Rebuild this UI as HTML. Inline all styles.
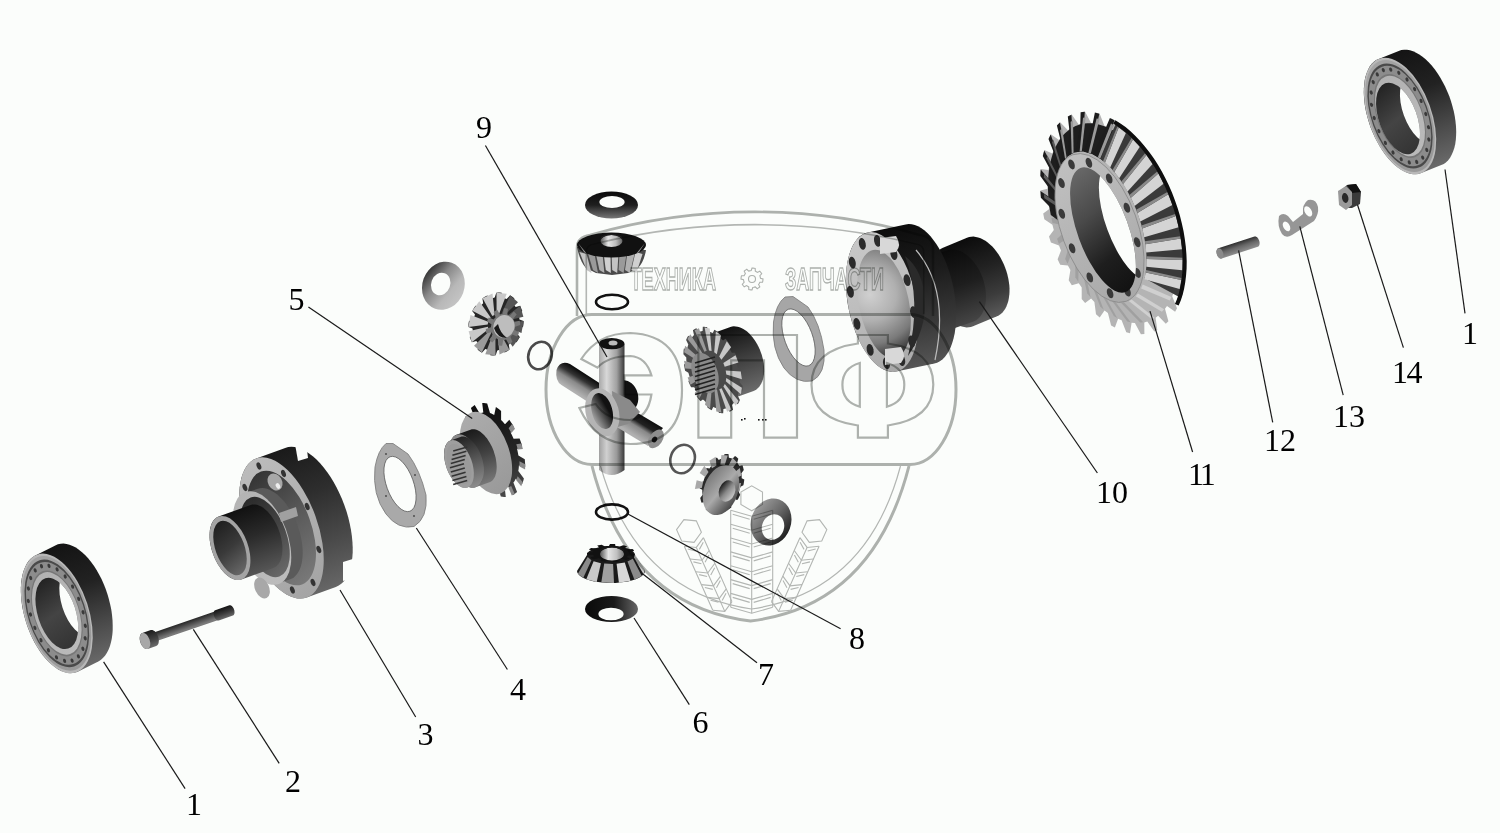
<!DOCTYPE html>
<html><head><meta charset="utf-8">
<style>
html,body{margin:0;padding:0;background:#fbfdfb;}
body{width:1500px;height:833px;overflow:hidden;}
svg{display:block;}
text{font-family:"Liberation Serif",serif;font-size:32px;fill:#000;}
</style></head><body>
<svg width="1500" height="833" viewBox="0 0 1500 833">
<defs><linearGradient id="g1" gradientUnits="userSpaceOnUse" x1="47.6" y1="549.4" x2="86" y2="667.4"><stop offset="0" stop-color="#141414"/><stop offset="0.35" stop-color="#222"/><stop offset="0.7" stop-color="#4a4a4a"/><stop offset="1" stop-color="#6a6a6a"/></linearGradient>
<linearGradient id="g2" gradientUnits="userSpaceOnUse" x1="37.6" y1="554.4" x2="76" y2="672.4"><stop offset="0" stop-color="#a4a4a4"/><stop offset="1" stop-color="#989898"/></linearGradient>
<linearGradient id="g3" gradientUnits="userSpaceOnUse" x1="37.6" y1="554.4" x2="76" y2="672.4"><stop offset="0" stop-color="#b0b0b0"/><stop offset="1" stop-color="#bcbcbc"/></linearGradient>
<linearGradient id="g4" gradientUnits="userSpaceOnUse" x1="45.4" y1="578.2" x2="68.2" y2="648.6"><stop offset="0" stop-color="#222"/><stop offset="0.5" stop-color="#444"/><stop offset="1" stop-color="#333"/></linearGradient>
<clipPath id="c5"><ellipse cx="78.8" cy="602.4" rx="17.1" ry="34.8" transform="rotate(-18 78.8 602.4)" fill="#000"/></clipPath>
<linearGradient id="g6" gradientUnits="userSpaceOnUse" x1="1389.1" y1="54.7" x2="1430.9" y2="169.3"><stop offset="0" stop-color="#141414"/><stop offset="0.35" stop-color="#222"/><stop offset="0.7" stop-color="#4a4a4a"/><stop offset="1" stop-color="#6a6a6a"/></linearGradient>
<linearGradient id="g7" gradientUnits="userSpaceOnUse" x1="1379.1" y1="58.7" x2="1420.9" y2="173.3"><stop offset="0" stop-color="#a4a4a4"/><stop offset="1" stop-color="#989898"/></linearGradient>
<linearGradient id="g8" gradientUnits="userSpaceOnUse" x1="1379.1" y1="58.7" x2="1420.9" y2="173.3"><stop offset="0" stop-color="#b0b0b0"/><stop offset="1" stop-color="#bcbcbc"/></linearGradient>
<linearGradient id="g9" gradientUnits="userSpaceOnUse" x1="1385.2" y1="83.3" x2="1410.8" y2="153.7"><stop offset="0" stop-color="#222"/><stop offset="0.5" stop-color="#444"/><stop offset="1" stop-color="#333"/></linearGradient>
<clipPath id="c10"><ellipse cx="1420" cy="109.7" rx="17.1" ry="35.2" transform="rotate(-20 1420 109.7)" fill="#000"/></clipPath>
<linearGradient id="g11" gradientUnits="userSpaceOnUse" x1="198.5" y1="615.7" x2="201.5" y2="624.3"><stop offset="0" stop-color="#1a1a1a"/><stop offset="0.45" stop-color="#444"/><stop offset="1" stop-color="#7a7a7a"/></linearGradient>
<linearGradient id="g12" gradientUnits="userSpaceOnUse" x1="228.2" y1="605.9" x2="231.8" y2="616.1"><stop offset="0" stop-color="#151515"/><stop offset="0.5" stop-color="#3a3a3a"/><stop offset="1" stop-color="#6a6a6a"/></linearGradient>
<linearGradient id="g13" gradientUnits="userSpaceOnUse" x1="147.3" y1="631.2" x2="152.7" y2="646.8"><stop offset="0" stop-color="#1a1a1a"/><stop offset="0.6" stop-color="#444"/><stop offset="1" stop-color="#6a6a6a"/></linearGradient>
<linearGradient id="g14" gradientUnits="userSpaceOnUse" x1="270.7" y1="452.5" x2="321.3" y2="591.5"><stop offset="0" stop-color="#1a1a1a"/><stop offset="0.35" stop-color="#2e2e2e"/><stop offset="0.7" stop-color="#4a4a4a"/><stop offset="1" stop-color="#666"/></linearGradient>
<linearGradient id="g15" gradientUnits="userSpaceOnUse" x1="256.2" y1="458.5" x2="306.8" y2="597.5"><stop offset="0" stop-color="#bcbcbc"/><stop offset="1" stop-color="#a4a4a4"/></linearGradient>
<linearGradient id="g16" gradientUnits="userSpaceOnUse" x1="261" y1="471.6" x2="302" y2="584.4"><stop offset="0" stop-color="#333"/><stop offset="0.5" stop-color="#5a5a5a"/><stop offset="1" stop-color="#7a7a7a"/></linearGradient>
<linearGradient id="g17" gradientUnits="userSpaceOnUse" x1="245.2" y1="492" x2="278.8" y2="584"><stop offset="0" stop-color="#b4b4b4"/><stop offset="1" stop-color="#bcbcbc"/></linearGradient>
<linearGradient id="g18" gradientUnits="userSpaceOnUse" x1="247.6" y1="498.5" x2="276.4" y2="577.5"><stop offset="0" stop-color="#2a2a2a"/><stop offset="0.5" stop-color="#444"/><stop offset="1" stop-color="#6a6a6a"/></linearGradient>
<linearGradient id="g19" gradientUnits="userSpaceOnUse" x1="234.5" y1="510.5" x2="257.5" y2="573.5"><stop offset="0" stop-color="#111"/><stop offset="0.45" stop-color="#2a2a2a"/><stop offset="1" stop-color="#555"/></linearGradient>
<linearGradient id="g20" gradientUnits="userSpaceOnUse" x1="220.3" y1="521.2" x2="239.7" y2="574.8"><stop offset="0" stop-color="#1e1e1e"/><stop offset="0.5" stop-color="#3a3a3a"/><stop offset="1" stop-color="#6a6a6a"/></linearGradient>
<linearGradient id="g21" gradientUnits="userSpaceOnUse" x1="477.2" y1="404" x2="510.8" y2="496"><stop offset="0" stop-color="#0e0e0e"/><stop offset="0.6" stop-color="#262626"/><stop offset="1" stop-color="#4a4a4a"/></linearGradient>
<linearGradient id="g22" gradientUnits="userSpaceOnUse" x1="471.3" y1="412.6" x2="500.7" y2="493.4"><stop offset="0" stop-color="#acacac"/><stop offset="1" stop-color="#999"/></linearGradient>
<linearGradient id="g23" gradientUnits="userSpaceOnUse" x1="462.4" y1="432.7" x2="481.6" y2="485.3"><stop offset="0" stop-color="#1a1a1a"/><stop offset="0.5" stop-color="#444"/><stop offset="1" stop-color="#777"/></linearGradient>
<linearGradient id="g24" gradientUnits="userSpaceOnUse" x1="455.4" y1="438.5" x2="472.6" y2="485.5"><stop offset="0" stop-color="#222"/><stop offset="0.5" stop-color="#555"/><stop offset="1" stop-color="#888"/></linearGradient>
<linearGradient id="g25" gradientUnits="userSpaceOnUse" x1="422.7" y1="278.3" x2="464.1" y2="293.3"><stop offset="0" stop-color="#333"/><stop offset="0.35" stop-color="#888"/><stop offset="0.7" stop-color="#b8b8b8"/><stop offset="1" stop-color="#c4c4c4"/></linearGradient>
<linearGradient id="g26" gradientUnits="userSpaceOnUse" x1="611.5" y1="191.5" x2="611.5" y2="218.5"><stop offset="0" stop-color="#0a0a0a"/><stop offset="0.5" stop-color="#1e1e1e"/><stop offset="1" stop-color="#777"/></linearGradient>
<linearGradient id="g27" gradientUnits="userSpaceOnUse" x1="600.5" y1="241" x2="622.5" y2="241"><stop offset="0" stop-color="#555"/><stop offset="0.35" stop-color="#e6e6e6"/><stop offset="0.7" stop-color="#bbb"/><stop offset="1" stop-color="#666"/></linearGradient>
<linearGradient id="g28" gradientUnits="userSpaceOnUse" x1="600" y1="554" x2="624" y2="554"><stop offset="0" stop-color="#555"/><stop offset="0.35" stop-color="#e6e6e6"/><stop offset="0.7" stop-color="#c0c0c0"/><stop offset="1" stop-color="#777"/></linearGradient>
<linearGradient id="g29" gradientUnits="userSpaceOnUse" x1="585" y1="609" x2="638" y2="609"><stop offset="0" stop-color="#0a0a0a"/><stop offset="0.55" stop-color="#1a1a1a"/><stop offset="1" stop-color="#666"/></linearGradient>
<linearGradient id="g30" gradientUnits="userSpaceOnUse" x1="572.7" y1="390.5" x2="583.3" y2="373.5"><stop offset="0" stop-color="#b0b0b0"/><stop offset="0.4" stop-color="#8a8a8a"/><stop offset="0.7" stop-color="#333"/><stop offset="1" stop-color="#0e0e0e"/></linearGradient>
<linearGradient id="g31" gradientUnits="userSpaceOnUse" x1="599" y1="370" x2="624.4" y2="370"><stop offset="0" stop-color="#a8a8a8"/><stop offset="0.3" stop-color="#d8d8d8"/><stop offset="0.7" stop-color="#a0a0a0"/><stop offset="1" stop-color="#3a3a3a"/></linearGradient>
<linearGradient id="g32" gradientUnits="userSpaceOnUse" x1="599" y1="450" x2="624.4" y2="450"><stop offset="0" stop-color="#a0a0a0"/><stop offset="0.3" stop-color="#d0d0d0"/><stop offset="0.7" stop-color="#999"/><stop offset="1" stop-color="#3a3a3a"/></linearGradient>
<linearGradient id="g33" gradientUnits="userSpaceOnUse" x1="634.2" y1="435.3" x2="645.8" y2="416.7"><stop offset="0" stop-color="#b0b0b0"/><stop offset="0.4" stop-color="#888"/><stop offset="0.62" stop-color="#222"/><stop offset="1" stop-color="#0e0e0e"/></linearGradient>
<linearGradient id="g34" gradientUnits="userSpaceOnUse" x1="592.3" y1="413.6" x2="611.7" y2="408.4"><stop offset="0" stop-color="#9a9a9a"/><stop offset="0.4" stop-color="#555"/><stop offset="0.8" stop-color="#111"/><stop offset="1" stop-color="#111"/></linearGradient>
<linearGradient id="g35" gradientUnits="userSpaceOnUse" x1="723.4" y1="329.1" x2="746.6" y2="392.9"><stop offset="0" stop-color="#111"/><stop offset="0.45" stop-color="#3a3a3a"/><stop offset="1" stop-color="#6a6a6a"/></linearGradient>
<linearGradient id="g36" gradientUnits="userSpaceOnUse" x1="702.2" y1="483.2" x2="739.8" y2="496.8"><stop offset="0" stop-color="#777"/><stop offset="0.5" stop-color="#aaa"/><stop offset="1" stop-color="#444"/></linearGradient>
<linearGradient id="g37" gradientUnits="userSpaceOnUse" x1="718.5" y1="487.9" x2="735.5" y2="494.1"><stop offset="0" stop-color="#111"/><stop offset="0.5" stop-color="#888"/><stop offset="1" stop-color="#ccc"/></linearGradient>
<linearGradient id="g38" gradientUnits="userSpaceOnUse" x1="752.2" y1="515.2" x2="789.8" y2="528.8"><stop offset="0" stop-color="#999"/><stop offset="0.5" stop-color="#666"/><stop offset="1" stop-color="#222"/></linearGradient>
<linearGradient id="g39" gradientUnits="userSpaceOnUse" x1="950.8" y1="244" x2="979.2" y2="322"><stop offset="0" stop-color="#0c0c0c"/><stop offset="0.4" stop-color="#222"/><stop offset="0.75" stop-color="#3c3c3c"/><stop offset="1" stop-color="#5a5a5a"/></linearGradient>
<linearGradient id="g40" gradientUnits="userSpaceOnUse" x1="922" y1="258.3" x2="948" y2="329.7"><stop offset="0" stop-color="#0a0a0a"/><stop offset="0.5" stop-color="#1e1e1e"/><stop offset="1" stop-color="#444"/></linearGradient>
<linearGradient id="g41" gradientUnits="userSpaceOnUse" x1="885.8" y1="228.4" x2="914.2" y2="367.6"><stop offset="0" stop-color="#0c0c0c"/><stop offset="0.35" stop-color="#1c1c1c"/><stop offset="0.7" stop-color="#383838"/><stop offset="1" stop-color="#555"/></linearGradient>
<linearGradient id="g42" gradientUnits="userSpaceOnUse" x1="867.8" y1="232.4" x2="896.2" y2="371.6"><stop offset="0" stop-color="#c8c8c8"/><stop offset="0.5" stop-color="#bdbdbd"/><stop offset="1" stop-color="#a8a8a8"/></linearGradient>
<radialGradient id="g43" gradientUnits="userSpaceOnUse" cx="872" cy="292" r="66"><stop offset="0" stop-color="#d0d0d0"/><stop offset="0.4" stop-color="#b0b0b0"/><stop offset="0.75" stop-color="#7a7a7a"/><stop offset="1" stop-color="#333"/></radialGradient>
<linearGradient id="g44" gradientUnits="userSpaceOnUse" x1="1072.8" y1="154.7" x2="1126.2" y2="301.3"><stop offset="0" stop-color="#c0c0c0"/><stop offset="1" stop-color="#a8a8a8"/></linearGradient>
<linearGradient id="g45" gradientUnits="userSpaceOnUse" x1="1080.4" y1="168" x2="1125.6" y2="292"><stop offset="0" stop-color="#6a6a6a"/><stop offset="0.35" stop-color="#4a4a4a"/><stop offset="0.7" stop-color="#1e1e1e"/><stop offset="1" stop-color="#111"/></linearGradient>
<clipPath id="c46"><ellipse cx="1128" cy="222" rx="22" ry="60" transform="rotate(-20 1128 222)" fill="#000"/></clipPath>
<linearGradient id="g47" gradientUnits="userSpaceOnUse" x1="1236.3" y1="241.9" x2="1239.7" y2="252.1"><stop offset="0" stop-color="#2a2a2a"/><stop offset="0.5" stop-color="#666"/><stop offset="1" stop-color="#8a8a8a"/></linearGradient></defs>
<path d="M98.3 661.4 L100.7 659.9 L102.9 658 L105 655.7 L106.8 653 L108.4 649.9 L109.8 646.4 L110.9 642.7 L111.8 638.6 L112.4 634.2 L112.7 629.6 L112.7 624.9 L112.5 619.9 L112 614.8 L111.3 609.7 L110.2 604.5 L108.9 599.3 L107.4 594.1 L105.7 589 L103.7 584 L101.5 579.1 L99.1 574.4 L96.6 570 L93.9 565.8 L91.1 561.9 L88.1 558.3 L85.1 555.1 L82 552.2 L78.9 549.7 L75.8 547.6 L72.6 545.9 L69.5 544.7 L66.5 543.9 L63.5 543.6 L60.7 543.8 L57.9 544.3 L55.3 545.4 L35.3 555.4 L32.9 556.9 L30.7 558.8 L28.6 561.1 L26.8 563.8 L25.2 566.9 L23.8 570.4 L22.7 574.1 L21.8 578.2 L21.2 582.6 L20.9 587.2 L20.9 591.9 L21.1 596.9 L21.6 602 L22.3 607.1 L23.4 612.3 L24.7 617.5 L26.2 622.7 L27.9 627.8 L29.9 632.8 L32.1 637.7 L34.5 642.4 L37 646.8 L39.7 651 L42.5 654.9 L45.5 658.5 L48.5 661.7 L51.6 664.6 L54.7 667.1 L57.8 669.2 L61 670.9 L64.1 672.1 L67.1 672.9 L70.1 673.2 L72.9 673 L75.7 672.5 L78.3 671.4Z" fill="url(#g1)"/>
<ellipse cx="56.8" cy="613.4" rx="32" ry="62" transform="rotate(-18 56.8 613.4)" fill="#b8b8b8"/>
<ellipse cx="56.8" cy="613.4" rx="30.7" ry="59.5" transform="rotate(-18 56.8 613.4)" fill="url(#g2)"/>
<ellipse cx="56.8" cy="613.4" rx="28.8" ry="55.8" transform="rotate(-18 56.8 613.4)" fill="#4a4a4a"/>
<ellipse cx="56.8" cy="613.4" rx="27.5" ry="53.3" transform="rotate(-18 56.8 613.4)" fill="#8c8c8c"/>
<ellipse cx="56.8" cy="613.4" rx="23" ry="44.6" transform="rotate(-18 56.8 613.4)" fill="#777"/>
<ellipse cx="56.8" cy="613.4" rx="22.1" ry="42.8" transform="rotate(-18 56.8 613.4)" fill="url(#g3)"/>
<ellipse cx="72.1" cy="660.6" rx="1.5" ry="2.2" transform="rotate(-18 72.1 660.6)" fill="#3a3a3a"/>
<ellipse cx="78.4" cy="656.4" rx="1.5" ry="2.2" transform="rotate(-18 78.4 656.4)" fill="#3a3a3a"/>
<ellipse cx="82.9" cy="648.8" rx="1.5" ry="2.2" transform="rotate(-18 82.9 648.8)" fill="#3a3a3a"/>
<ellipse cx="85.2" cy="638.3" rx="1.5" ry="2.2" transform="rotate(-18 85.2 638.3)" fill="#3a3a3a"/>
<ellipse cx="85.3" cy="625.8" rx="1.5" ry="2.2" transform="rotate(-18 85.3 625.8)" fill="#3a3a3a"/>
<ellipse cx="83.1" cy="612.3" rx="1.5" ry="2.2" transform="rotate(-18 83.1 612.3)" fill="#3a3a3a"/>
<ellipse cx="78.7" cy="598.9" rx="1.5" ry="2.2" transform="rotate(-18 78.7 598.9)" fill="#3a3a3a"/>
<ellipse cx="72.6" cy="586.6" rx="1.5" ry="2.2" transform="rotate(-18 72.6 586.6)" fill="#3a3a3a"/>
<ellipse cx="65.2" cy="576.5" rx="1.5" ry="2.2" transform="rotate(-18 65.2 576.5)" fill="#3a3a3a"/>
<ellipse cx="57.1" cy="569.4" rx="1.5" ry="2.2" transform="rotate(-18 57.1 569.4)" fill="#3a3a3a"/>
<ellipse cx="49" cy="565.9" rx="1.5" ry="2.2" transform="rotate(-18 49 565.9)" fill="#3a3a3a"/>
<ellipse cx="41.5" cy="566.2" rx="1.5" ry="2.2" transform="rotate(-18 41.5 566.2)" fill="#3a3a3a"/>
<ellipse cx="35.2" cy="570.4" rx="1.5" ry="2.2" transform="rotate(-18 35.2 570.4)" fill="#3a3a3a"/>
<ellipse cx="30.7" cy="578" rx="1.5" ry="2.2" transform="rotate(-18 30.7 578)" fill="#3a3a3a"/>
<ellipse cx="28.4" cy="588.5" rx="1.5" ry="2.2" transform="rotate(-18 28.4 588.5)" fill="#3a3a3a"/>
<ellipse cx="28.3" cy="601" rx="1.5" ry="2.2" transform="rotate(-18 28.3 601)" fill="#3a3a3a"/>
<ellipse cx="30.5" cy="614.5" rx="1.5" ry="2.2" transform="rotate(-18 30.5 614.5)" fill="#3a3a3a"/>
<ellipse cx="34.9" cy="627.9" rx="1.5" ry="2.2" transform="rotate(-18 34.9 627.9)" fill="#3a3a3a"/>
<ellipse cx="41" cy="640.2" rx="1.5" ry="2.2" transform="rotate(-18 41 640.2)" fill="#3a3a3a"/>
<ellipse cx="48.4" cy="650.3" rx="1.5" ry="2.2" transform="rotate(-18 48.4 650.3)" fill="#3a3a3a"/>
<ellipse cx="56.5" cy="657.4" rx="1.5" ry="2.2" transform="rotate(-18 56.5 657.4)" fill="#3a3a3a"/>
<ellipse cx="64.6" cy="660.9" rx="1.5" ry="2.2" transform="rotate(-18 64.6 660.9)" fill="#3a3a3a"/>
<ellipse cx="56.8" cy="613.4" rx="19" ry="37" transform="rotate(-18 56.8 613.4)" fill="url(#g4)"/>
<g clip-path="url(#c5)"><ellipse cx="56.8" cy="613.4" rx="19" ry="37" transform="rotate(-18 56.8 613.4)" fill="#fbfdfb"/></g>
<path d="M1441.3 165.1 L1443.8 163.9 L1446.1 162.2 L1448.2 160.2 L1450.1 157.7 L1451.7 154.8 L1453.1 151.6 L1454.3 148.1 L1455.2 144.2 L1455.8 140.1 L1456.1 135.8 L1456.2 131.2 L1456 126.4 L1455.5 121.5 L1454.8 116.5 L1453.8 111.5 L1452.5 106.4 L1451 101.3 L1449.3 96.3 L1447.3 91.4 L1445.1 86.6 L1442.7 81.9 L1440.2 77.5 L1437.5 73.2 L1434.7 69.3 L1431.7 65.6 L1428.7 62.3 L1425.6 59.3 L1422.5 56.7 L1419.3 54.5 L1416.1 52.7 L1413 51.3 L1410 50.3 L1407 49.8 L1404.1 49.7 L1401.3 50.1 L1398.7 50.9 L1378.7 58.9 L1376.2 60.1 L1373.9 61.8 L1371.8 63.8 L1369.9 66.3 L1368.3 69.2 L1366.9 72.4 L1365.7 75.9 L1364.8 79.8 L1364.2 83.9 L1363.9 88.2 L1363.8 92.8 L1364 97.6 L1364.5 102.5 L1365.2 107.5 L1366.2 112.5 L1367.5 117.6 L1369 122.7 L1370.7 127.7 L1372.7 132.6 L1374.9 137.4 L1377.3 142.1 L1379.8 146.5 L1382.5 150.8 L1385.3 154.7 L1388.3 158.4 L1391.3 161.7 L1394.4 164.7 L1397.5 167.3 L1400.7 169.5 L1403.9 171.3 L1407 172.7 L1410 173.7 L1413 174.2 L1415.9 174.3 L1418.7 173.9 L1421.3 173.1Z" fill="url(#g6)"/>
<ellipse cx="1400" cy="116" rx="31.5" ry="61" transform="rotate(-20 1400 116)" fill="#b8b8b8"/>
<ellipse cx="1400" cy="116" rx="30.2" ry="58.6" transform="rotate(-20 1400 116)" fill="url(#g7)"/>
<ellipse cx="1400" cy="116" rx="28.4" ry="54.9" transform="rotate(-20 1400 116)" fill="#4a4a4a"/>
<ellipse cx="1400" cy="116" rx="27.1" ry="52.5" transform="rotate(-20 1400 116)" fill="#8c8c8c"/>
<ellipse cx="1400" cy="116" rx="22.7" ry="43.9" transform="rotate(-20 1400 116)" fill="#777"/>
<ellipse cx="1400" cy="116" rx="21.7" ry="42.1" transform="rotate(-20 1400 116)" fill="url(#g8)"/>
<ellipse cx="1416.7" cy="161.9" rx="1.5" ry="2.2" transform="rotate(-20 1416.7 161.9)" fill="#3a3a3a"/>
<ellipse cx="1422.7" cy="157.6" rx="1.5" ry="2.2" transform="rotate(-20 1422.7 157.6)" fill="#3a3a3a"/>
<ellipse cx="1426.8" cy="149.9" rx="1.5" ry="2.2" transform="rotate(-20 1426.8 149.9)" fill="#3a3a3a"/>
<ellipse cx="1428.8" cy="139.5" rx="1.5" ry="2.2" transform="rotate(-20 1428.8 139.5)" fill="#3a3a3a"/>
<ellipse cx="1428.5" cy="127.2" rx="1.5" ry="2.2" transform="rotate(-20 1428.5 127.2)" fill="#3a3a3a"/>
<ellipse cx="1425.8" cy="114" rx="1.5" ry="2.2" transform="rotate(-20 1425.8 114)" fill="#3a3a3a"/>
<ellipse cx="1421.1" cy="100.9" rx="1.5" ry="2.2" transform="rotate(-20 1421.1 100.9)" fill="#3a3a3a"/>
<ellipse cx="1414.6" cy="89.1" rx="1.5" ry="2.2" transform="rotate(-20 1414.6 89.1)" fill="#3a3a3a"/>
<ellipse cx="1407" cy="79.5" rx="1.5" ry="2.2" transform="rotate(-20 1407 79.5)" fill="#3a3a3a"/>
<ellipse cx="1398.8" cy="72.8" rx="1.5" ry="2.2" transform="rotate(-20 1398.8 72.8)" fill="#3a3a3a"/>
<ellipse cx="1390.7" cy="69.6" rx="1.5" ry="2.2" transform="rotate(-20 1390.7 69.6)" fill="#3a3a3a"/>
<ellipse cx="1383.3" cy="70.1" rx="1.5" ry="2.2" transform="rotate(-20 1383.3 70.1)" fill="#3a3a3a"/>
<ellipse cx="1377.3" cy="74.4" rx="1.5" ry="2.2" transform="rotate(-20 1377.3 74.4)" fill="#3a3a3a"/>
<ellipse cx="1373.2" cy="82.1" rx="1.5" ry="2.2" transform="rotate(-20 1373.2 82.1)" fill="#3a3a3a"/>
<ellipse cx="1371.2" cy="92.5" rx="1.5" ry="2.2" transform="rotate(-20 1371.2 92.5)" fill="#3a3a3a"/>
<ellipse cx="1371.5" cy="104.8" rx="1.5" ry="2.2" transform="rotate(-20 1371.5 104.8)" fill="#3a3a3a"/>
<ellipse cx="1374.2" cy="118" rx="1.5" ry="2.2" transform="rotate(-20 1374.2 118)" fill="#3a3a3a"/>
<ellipse cx="1378.9" cy="131.1" rx="1.5" ry="2.2" transform="rotate(-20 1378.9 131.1)" fill="#3a3a3a"/>
<ellipse cx="1385.4" cy="142.9" rx="1.5" ry="2.2" transform="rotate(-20 1385.4 142.9)" fill="#3a3a3a"/>
<ellipse cx="1393" cy="152.5" rx="1.5" ry="2.2" transform="rotate(-20 1393 152.5)" fill="#3a3a3a"/>
<ellipse cx="1401.2" cy="159.2" rx="1.5" ry="2.2" transform="rotate(-20 1401.2 159.2)" fill="#3a3a3a"/>
<ellipse cx="1409.3" cy="162.4" rx="1.5" ry="2.2" transform="rotate(-20 1409.3 162.4)" fill="#3a3a3a"/>
<ellipse cx="1398" cy="118.5" rx="19" ry="37.5" transform="rotate(-20 1398 118.5)" fill="url(#g9)"/>
<g clip-path="url(#c10)"><ellipse cx="1398" cy="118.5" rx="19" ry="37.5" transform="rotate(-20 1398 118.5)" fill="#fbfdfb"/></g>
<path d="M219.9 619.4 L220.1 619.3 L220.3 619.1 L220.5 619 L220.7 618.8 L220.8 618.6 L220.9 618.4 L221 618.1 L221.1 617.8 L221.2 617.5 L221.3 617.2 L221.3 616.8 L221.3 616.5 L221.3 616.1 L221.2 615.7 L221.2 615.3 L221.1 614.9 L221 614.5 L220.9 614.2 L220.7 613.8 L220.6 613.4 L220.4 613.1 L220.2 612.7 L220 612.4 L219.8 612.1 L219.6 611.8 L219.3 611.6 L219.1 611.3 L218.8 611.1 L218.6 611 L218.3 610.8 L218.1 610.7 L217.8 610.6 L217.6 610.6 L217.4 610.6 L217.1 610.6 L216.9 610.7 L154.5 632.2 L154.3 632.2 L154.1 632.4 L153.9 632.5 L153.8 632.7 L153.6 632.9 L153.5 633.2 L153.4 633.4 L153.3 633.7 L153.2 634 L153.2 634.4 L153.1 634.7 L153.1 635.1 L153.1 635.4 L153.2 635.8 L153.2 636.2 L153.3 636.6 L153.4 637 L153.5 637.3 L153.7 637.7 L153.8 638.1 L154 638.4 L154.2 638.8 L154.4 639.1 L154.6 639.4 L154.8 639.7 L155.1 639.9 L155.3 640.2 L155.6 640.4 L155.8 640.5 L156.1 640.7 L156.3 640.8 L156.6 640.9 L156.8 640.9 L157 640.9 L157.3 640.9 L157.5 640.8Z" fill="url(#g11)"/>
<path d="M232.9 615.5 L233.2 615.4 L233.4 615.3 L233.6 615.1 L233.8 614.9 L234 614.6 L234.1 614.3 L234.2 614 L234.4 613.7 L234.4 613.3 L234.5 613 L234.5 612.5 L234.5 612.1 L234.5 611.7 L234.4 611.2 L234.4 610.8 L234.3 610.3 L234.2 609.9 L234 609.4 L233.9 609 L233.7 608.6 L233.5 608.2 L233.2 607.8 L233 607.4 L232.8 607 L232.5 606.7 L232.2 606.4 L231.9 606.1 L231.7 605.9 L231.4 605.7 L231.1 605.5 L230.8 605.4 L230.5 605.3 L230.2 605.2 L229.9 605.2 L229.7 605.2 L229.4 605.3 L215.2 610.2 L215 610.3 L214.8 610.4 L214.6 610.6 L214.4 610.8 L214.2 611.1 L214.1 611.4 L213.9 611.7 L213.8 612 L213.8 612.4 L213.7 612.8 L213.7 613.2 L213.7 613.6 L213.7 614 L213.7 614.5 L213.8 614.9 L213.9 615.4 L214 615.8 L214.2 616.3 L214.3 616.7 L214.5 617.1 L214.7 617.6 L214.9 618 L215.2 618.3 L215.4 618.7 L215.7 619 L216 619.3 L216.2 619.6 L216.5 619.8 L216.8 620 L217.1 620.2 L217.4 620.3 L217.7 620.4 L218 620.5 L218.2 620.5 L218.5 620.5 L218.8 620.4Z" fill="url(#g12)"/>
<path d="M156.2 646 L156.6 645.8 L157 645.6 L157.3 645.3 L157.6 645 L157.9 644.6 L158.1 644.2 L158.4 643.7 L158.5 643.1 L158.7 642.6 L158.7 642 L158.8 641.3 L158.8 640.7 L158.8 640 L158.7 639.3 L158.6 638.6 L158.5 637.9 L158.3 637.2 L158 636.5 L157.8 635.8 L157.5 635.2 L157.2 634.5 L156.8 633.9 L156.5 633.3 L156.1 632.7 L155.7 632.2 L155.2 631.8 L154.8 631.3 L154.3 631 L153.9 630.7 L153.4 630.4 L152.9 630.2 L152.5 630.1 L152 630 L151.6 630 L151.2 630 L150.8 630.1 L142.3 633.1 L141.9 633.2 L141.5 633.4 L141.2 633.7 L140.9 634.1 L140.6 634.5 L140.4 634.9 L140.2 635.4 L140 635.9 L139.9 636.5 L139.8 637.1 L139.7 637.7 L139.7 638.4 L139.7 639.1 L139.8 639.8 L139.9 640.5 L140.1 641.2 L140.2 641.9 L140.5 642.6 L140.7 643.2 L141 643.9 L141.3 644.6 L141.7 645.2 L142 645.8 L142.4 646.3 L142.9 646.8 L143.3 647.3 L143.7 647.7 L144.2 648.1 L144.6 648.4 L145.1 648.7 L145.6 648.9 L146 649 L146.5 649.1 L146.9 649.1 L147.3 649 L147.7 648.9Z" fill="url(#g13)"/>
<ellipse cx="145" cy="641" rx="4.8" ry="8.4" transform="rotate(-19 145 641)" fill="#a8a8a8"/>
<path d="M335.8 586.9 L338.7 585.6 L341.3 583.7 L343.7 581.4 L345.9 578.5 L347.7 575.2 L349.3 571.4 L350.6 567.3 L351.6 562.7 L352.3 557.8 L352.7 552.6 L352.7 547.2 L352.4 541.5 L351.8 535.6 L350.9 529.6 L349.7 523.5 L348.2 517.3 L346.4 511.1 L344.3 505 L342 499 L339.4 493.2 L336.6 487.5 L333.6 482 L330.4 476.8 L327.1 471.9 L323.7 467.4 L320.1 463.2 L316.5 459.5 L312.8 456.2 L309.1 453.4 L305.5 451 L301.8 449.2 L298.3 447.8 L294.8 447 L291.4 446.8 L288.2 447.1 L285.2 447.9 L256.2 458.5 L253.3 459.8 L250.7 461.7 L248.3 464 L246.1 466.9 L244.3 470.2 L242.7 474 L241.4 478.1 L240.4 482.7 L239.7 487.6 L239.3 492.8 L239.3 498.2 L239.6 503.9 L240.2 509.8 L241.1 515.8 L242.3 521.9 L243.8 528.1 L245.6 534.3 L247.7 540.4 L250 546.4 L252.6 552.2 L255.4 557.9 L258.4 563.4 L261.6 568.6 L264.9 573.5 L268.3 578 L271.9 582.2 L275.5 585.9 L279.2 589.2 L282.9 592 L286.5 594.4 L290.2 596.2 L293.7 597.6 L297.2 598.4 L300.6 598.6 L303.8 598.3 L306.8 597.5Z" fill="url(#g14)"/>
<path d="M295 444 L306 442 L308 458 L298 461 Z" fill="#fbfdfb"/>
<path d="M343 562 L356 558 L357 576 L343 581 Z" fill="#fbfdfb"/>
<path d="M348 488 L356 486 L356 498 L349 501 Z" fill="#fbfdfb"/>
<ellipse cx="281.5" cy="528" rx="36" ry="74" transform="rotate(-20 281.5 528)" fill="url(#g15)"/>
<ellipse cx="248" cy="528" rx="2.2" ry="3.8" transform="rotate(-20 248 528)" fill="#333"/>
<ellipse cx="266.7" cy="568.5" rx="2.2" ry="3.8" transform="rotate(-20 266.7 568.5)" fill="#333"/>
<ellipse cx="292.4" cy="590" rx="2.2" ry="3.8" transform="rotate(-20 292.4 590)" fill="#333"/>
<ellipse cx="313" cy="582.5" rx="2.2" ry="3.8" transform="rotate(-20 313 582.5)" fill="#333"/>
<ellipse cx="318.8" cy="549.5" rx="2.2" ry="3.8" transform="rotate(-20 318.8 549.5)" fill="#333"/>
<ellipse cx="307.2" cy="506.5" rx="2.2" ry="3.8" transform="rotate(-20 307.2 506.5)" fill="#333"/>
<ellipse cx="283.5" cy="473.5" rx="2.2" ry="3.8" transform="rotate(-20 283.5 473.5)" fill="#333"/>
<ellipse cx="258.9" cy="466" rx="2.2" ry="3.8" transform="rotate(-20 258.9 466)" fill="#333"/>
<ellipse cx="244.9" cy="487.5" rx="2.2" ry="3.8" transform="rotate(-20 244.9 487.5)" fill="#333"/>
<ellipse cx="281.5" cy="528" rx="29.5" ry="60" transform="rotate(-20 281.5 528)" fill="url(#g16)"/>
<path d="M290.1 579.2 L292.1 578.4 L294 577.2 L295.7 575.6 L297.2 573.8 L298.6 571.6 L299.8 569.2 L300.8 566.5 L301.6 563.6 L302.1 560.4 L302.5 557 L302.7 553.5 L302.6 549.8 L302.3 545.9 L301.8 542 L301.1 538.1 L300.2 534.1 L299 530.1 L297.7 526.1 L296.2 522.2 L294.6 518.4 L292.8 514.7 L290.8 511.1 L288.7 507.7 L286.5 504.5 L284.2 501.6 L281.8 498.9 L279.4 496.4 L276.9 494.3 L274.4 492.4 L271.9 490.9 L269.5 489.7 L267 488.8 L264.6 488.3 L262.3 488.1 L260 488.3 L257.9 488.8 L245.9 492.8 L243.9 493.6 L242 494.8 L240.3 496.4 L238.8 498.2 L237.4 500.4 L236.2 502.8 L235.2 505.5 L234.4 508.4 L233.9 511.6 L233.5 515 L233.3 518.5 L233.4 522.2 L233.7 526.1 L234.2 530 L234.9 533.9 L235.8 537.9 L237 541.9 L238.3 545.9 L239.8 549.8 L241.4 553.6 L243.2 557.3 L245.2 560.9 L247.3 564.3 L249.5 567.5 L251.8 570.4 L254.2 573.1 L256.6 575.6 L259.1 577.7 L261.6 579.6 L264.1 581.1 L266.5 582.3 L269 583.2 L271.4 583.7 L273.7 583.9 L276 583.7 L278.1 583.2Z" fill="#5a5a5a"/>
<ellipse cx="262" cy="538" rx="25.5" ry="49" transform="rotate(-20 262 538)" fill="url(#g17)"/>
<ellipse cx="265" cy="537" rx="21.5" ry="42" transform="rotate(-20 265 537)" fill="url(#g18)"/>
<path d="M279 513 L296 507 L298 516 L281 522 Z" fill="#a0a0a0"/>
<path d="M273.4 568 L274.9 567.3 L276.2 566.5 L277.4 565.3 L278.5 564 L279.5 562.5 L280.4 560.7 L281.1 558.8 L281.6 556.7 L282.1 554.5 L282.3 552.1 L282.4 549.6 L282.4 547 L282.2 544.3 L281.8 541.6 L281.3 538.8 L280.7 536 L279.9 533.2 L278.9 530.4 L277.9 527.7 L276.7 525 L275.4 522.5 L274 520 L272.5 517.7 L271 515.5 L269.3 513.4 L267.6 511.6 L265.9 509.9 L264.1 508.5 L262.4 507.2 L260.6 506.2 L258.8 505.4 L257.1 504.8 L255.4 504.5 L253.7 504.4 L252.1 504.6 L250.6 505 L218.6 516.5 L217.1 517.2 L215.8 518 L214.6 519.2 L213.5 520.5 L212.5 522 L211.6 523.8 L210.9 525.7 L210.4 527.8 L209.9 530 L209.7 532.4 L209.6 534.9 L209.6 537.5 L209.8 540.2 L210.2 542.9 L210.7 545.7 L211.3 548.5 L212.1 551.3 L213.1 554.1 L214.1 556.8 L215.3 559.5 L216.6 562 L218 564.5 L219.5 566.8 L221 569 L222.7 571.1 L224.4 572.9 L226.1 574.6 L227.9 576 L229.6 577.3 L231.4 578.3 L233.2 579.1 L234.9 579.7 L236.6 580 L238.3 580.1 L239.9 579.9 L241.4 579.5Z" fill="url(#g19)"/>
<ellipse cx="230" cy="548" rx="18" ry="33.5" transform="rotate(-20 230 548)" fill="#a4a4a4"/>
<ellipse cx="230" cy="548" rx="14.5" ry="28.5" transform="rotate(-20 230 548)" fill="url(#g20)"/>
<ellipse cx="275" cy="482" rx="7" ry="9" transform="rotate(-30 275 482)" fill="#a8a8a8"/>
<ellipse cx="278" cy="486" rx="2" ry="3" transform="rotate(-30 278 486)" fill="#eee"/>
<ellipse cx="262" cy="588" rx="7" ry="11" transform="rotate(-25 262 588)" fill="#a8a8a8"/>
<path d="M386 443.5 L393 443.5 L408 454 Q420 470 426 495 Q428 518 414 526.5 Q398 530 386 514 Q372 495 375 467 Q378 450 386 443.5 Z" fill="#a9a9a9" stroke="#777" stroke-width="0.8"/>
<ellipse cx="400" cy="484" rx="13.5" ry="29" transform="rotate(-20 400 484)" fill="#fbfdfb" stroke="#555" stroke-width="0.7"/>
<circle cx="386" cy="454" r="0.9" fill="#444"/>
<circle cx="415" cy="475" r="0.9" fill="#444"/>
<circle cx="386" cy="496" r="0.9" fill="#444"/>
<circle cx="414" cy="516" r="0.9" fill="#444"/>
<path d="M513.3 494.9 L514.6 494 L515.9 493 L517.1 491.9 L513.4 482.5 L514.3 481.4 L515.1 480.1 L515.8 478.8 L522 484.3 L522.7 482.4 L523.4 480.5 L523.9 478.4 L518.3 471 L518.6 469.2 L518.8 467.4 L518.9 465.5 L525.2 466.9 L525.2 464.4 L525 461.9 L524.8 459.3 L518.4 455.4 L518 453.3 L517.6 451.2 L517.1 449.1 L522.2 446.2 L521.4 443.6 L520.5 441 L519.6 438.4 L513.6 438.7 L512.7 436.7 L511.8 434.8 L510.7 432.8 L513.6 426.2 L512.2 424 L510.8 421.9 L509.3 419.8 L505 424.2 L503.7 422.8 L502.4 421.3 L501.1 420 L501.1 411 L499.4 409.6 L497.7 408.3 L495.9 407.1 L494.2 414.9 L492.8 414.2 L491.4 413.6 L490 413.1 L487.2 403.5 L485.5 403.2 L483.9 403 L482.2 403 L483.3 412.5 L482.1 412.7 L480.9 413.1 L479.7 413.5 L474.7 405.1 L473.4 406 L472.1 407 L470.9 408.1 L474.6 417.5 L473.7 418.6 L472.9 419.9 L472.2 421.2 L466 415.7 L465.3 417.6 L464.6 419.5 L464.1 421.6 L469.7 429 L469.4 430.8 L469.2 432.6 L469.1 434.5 L462.8 433.1 L462.8 435.6 L463 438.1 L463.2 440.7 L469.6 444.6 L470 446.7 L470.4 448.8 L470.9 450.9 L465.8 453.8 L466.6 456.4 L467.5 459 L468.4 461.6 L474.4 461.3 L475.3 463.3 L476.2 465.2 L477.3 467.2 L474.4 473.8 L475.8 476 L477.2 478.1 L478.7 480.2 L483 475.8 L484.3 477.2 L485.6 478.7 L486.9 480 L486.9 489 L488.6 490.4 L490.3 491.7 L492.1 492.9 L493.8 485.1 L495.2 485.8 L496.6 486.4 L498 486.9 L500.8 496.5 L502.5 496.8 L504.1 497 L505.8 497 L504.7 487.5 L505.9 487.3 L507.1 486.9 L508.3 486.5Z" fill="url(#g21)"/>
<path d="M508.4 487.5 L511.8 495.6 L514.7 493.9 L511.2 485.9Z" fill="#8a8a8a"/>
<path d="M516.1 479.9 L521.2 486.2 L522.8 482.3 L517.7 476.2Z" fill="#8a8a8a"/>
<path d="M519.5 466.4 L525.1 469.5 L525.2 464.3 L519.5 461.3Z" fill="#8a8a8a"/>
<path d="M517.8 449.6 L522.9 449 L521.3 443.4 L516.3 444.2Z" fill="#8a8a8a"/>
<path d="M511.4 432.9 L515 428.7 L512.1 423.9 L508.6 428.2Z" fill="#8a8a8a"/>
<ellipse cx="486" cy="453" rx="23" ry="43" transform="rotate(-20 486 453)" fill="url(#g22)"/>
<path d="M489.5 482.3 L490.7 481.8 L491.8 481.1 L492.7 480.2 L493.6 479.1 L494.4 477.8 L495.1 476.4 L495.6 474.8 L496.1 473 L496.4 471.2 L496.6 469.2 L496.7 467.1 L496.6 464.9 L496.4 462.7 L496.1 460.4 L495.7 458.1 L495.1 455.8 L494.4 453.4 L493.7 451.1 L492.8 448.8 L491.8 446.6 L490.7 444.5 L489.6 442.4 L488.3 440.5 L487.1 438.6 L485.7 436.9 L484.3 435.3 L482.9 433.9 L481.5 432.7 L480 431.6 L478.6 430.8 L477.1 430.1 L475.7 429.6 L474.3 429.3 L473 429.2 L471.7 429.3 L470.5 429.7 L456.5 434.7 L455.3 435.2 L454.2 435.9 L453.3 436.8 L452.4 437.9 L451.6 439.2 L450.9 440.6 L450.4 442.2 L449.9 444 L449.6 445.8 L449.4 447.8 L449.3 449.9 L449.4 452.1 L449.6 454.3 L449.9 456.6 L450.3 458.9 L450.9 461.2 L451.6 463.6 L452.3 465.9 L453.2 468.2 L454.2 470.4 L455.3 472.5 L456.4 474.6 L457.7 476.5 L458.9 478.4 L460.3 480.1 L461.7 481.7 L463.1 483.1 L464.5 484.3 L466 485.4 L467.4 486.2 L468.9 486.9 L470.3 487.4 L471.7 487.7 L473 487.8 L474.3 487.7 L475.5 487.3Z" fill="url(#g23)"/>
<ellipse cx="466" cy="461" rx="14.5" ry="28" transform="rotate(-20 466 461)" fill="#8a8a8a"/>
<path d="M477.5 483.9 L478.6 483.4 L479.5 482.8 L480.4 482 L481.2 481 L481.9 479.8 L482.5 478.6 L483 477.1 L483.4 475.6 L483.7 473.9 L483.9 472.1 L483.9 470.3 L483.9 468.3 L483.7 466.3 L483.4 464.3 L483 462.2 L482.5 460.1 L481.9 458.1 L481.2 456 L480.4 454 L479.6 452 L478.6 450.1 L477.6 448.2 L476.5 446.5 L475.3 444.8 L474.1 443.3 L472.9 441.9 L471.6 440.7 L470.3 439.6 L469 438.6 L467.7 437.8 L466.4 437.2 L465.2 436.8 L463.9 436.6 L462.7 436.5 L461.6 436.6 L460.5 436.9 L450.5 440.5 L449.4 441 L448.5 441.6 L447.6 442.4 L446.8 443.4 L446.1 444.6 L445.5 445.8 L445 447.3 L444.6 448.8 L444.3 450.5 L444.1 452.3 L444.1 454.1 L444.1 456.1 L444.3 458.1 L444.6 460.1 L445 462.2 L445.5 464.3 L446.1 466.3 L446.8 468.4 L447.6 470.4 L448.4 472.4 L449.4 474.3 L450.4 476.2 L451.5 477.9 L452.7 479.6 L453.9 481.1 L455.1 482.5 L456.4 483.7 L457.7 484.8 L459 485.8 L460.3 486.6 L461.6 487.2 L462.8 487.6 L464.1 487.8 L465.3 487.9 L466.4 487.8 L467.5 487.5Z" fill="url(#g24)"/>
<ellipse cx="459" cy="464" rx="13" ry="25" transform="rotate(-20 459 464)" fill="#9e9e9e"/>
<ellipse cx="459" cy="464" rx="10.8" ry="21" transform="rotate(-20 459 464)" fill="#9a9a9a"/>
<path d="M453.2 451 l14 -4" stroke="#333" stroke-width="1.6"/>
<path d="M452.4 455.2 l14 -4" stroke="#333" stroke-width="1.6"/>
<path d="M451.6 459.4 l14 -4" stroke="#333" stroke-width="1.6"/>
<path d="M450.8 463.6 l14 -4" stroke="#333" stroke-width="1.6"/>
<path d="M450 467.8 l14 -4" stroke="#333" stroke-width="1.6"/>
<path d="M450.8 472 l14 -4" stroke="#333" stroke-width="1.6"/>
<path d="M451.6 476.2 l14 -4" stroke="#333" stroke-width="1.6"/>
<path d="M452.4 480.4 l14 -4" stroke="#333" stroke-width="1.6"/>
<path d="M453.2 484.6 l14 -4" stroke="#333" stroke-width="1.6"/>
<ellipse cx="443.4" cy="285.8" rx="21" ry="24.4" transform="rotate(20 443.4 285.8)" fill="url(#g25)"/>
<ellipse cx="440.7" cy="284" rx="9.5" ry="11.5" transform="rotate(20 440.7 284)" fill="#fbfdfb"/>
<ellipse cx="540" cy="355.5" rx="11.5" ry="14" transform="rotate(20 540 355.5)" fill="none" stroke="#4a4a4a" stroke-width="2.6"/>
<path d="M490.3 355.3 L492.1 355.4 L493.9 355.4 L495.7 355.3 L497.3 350.4 L498.8 350 L500.3 349.6 L501.8 349 L504.6 352.6 L506.3 351.7 L508 350.7 L509.6 349.6 L508.8 344.7 L510.1 343.5 L511.3 342.3 L512.4 341 L516.6 342.3 L517.7 340.6 L518.8 338.8 L519.8 337 L517 333.4 L517.6 331.8 L518.2 330.1 L518.6 328.3 L523 327.1 L523.4 325 L523.6 323 L523.6 320.9 L519.5 319.6 L519.3 317.9 L519.1 316.2 L518.8 314.6 L522.3 311 L521.6 309.2 L520.9 307.4 L520.1 305.7 L515.7 307 L514.8 305.7 L513.8 304.5 L512.8 303.3 L514.4 298.4 L513.1 297.3 L511.6 296.3 L510.1 295.3 L506.6 299 L505.2 298.4 L503.8 298 L502.3 297.6 L501.7 292.7 L499.9 292.6 L498.1 292.6 L496.3 292.7 L494.7 297.6 L493.2 298 L491.7 298.4 L490.2 299 L487.4 295.4 L485.7 296.3 L484 297.3 L482.4 298.4 L483.2 303.3 L481.9 304.5 L480.7 305.7 L479.6 307 L475.4 305.7 L474.3 307.4 L473.2 309.2 L472.2 311 L475 314.6 L474.4 316.2 L473.8 317.9 L473.4 319.7 L469 320.9 L468.6 323 L468.4 325 L468.4 327.1 L472.5 328.4 L472.7 330.1 L472.9 331.8 L473.2 333.4 L469.7 337 L470.4 338.8 L471.1 340.6 L471.9 342.3 L476.3 341 L477.2 342.3 L478.2 343.5 L479.2 344.7 L477.6 349.6 L478.9 350.7 L480.4 351.7 L481.9 352.7 L485.4 349 L486.8 349.6 L488.2 350 L489.7 350.4Z" fill="#262626"/>
<path d="M493.2 333.2 L485.3 354.2 L495.5 355.3 L495.4 333.4Z" fill="#9a9a9a"/>
<path d="M497.5 333.1 L499.5 354.6 L509.4 349.7 L499.7 332Z" fill="#9a9a9a"/>
<path d="M501.3 330.5 L512.7 346.8 L519.7 337.2 L502.9 328.4Z" fill="#555"/>
<path d="M503.8 326.2 L521.5 332.9 L523.6 321.1 L504.3 323.6Z" fill="#555"/>
<path d="M504.2 321.3 L523.4 316.7 L520.2 305.8 L503.4 318.9Z" fill="#555"/>
<path d="M502.3 317.2 L518 302.3 L510.2 295.4 L500.6 315.6Z" fill="#555"/>
<path d="M498.8 314.8 L506.7 293.8 L496.5 292.7 L496.6 314.6Z" fill="#c8c8c8"/>
<path d="M494.5 314.9 L492.5 293.4 L482.6 298.3 L492.3 316Z" fill="#c8c8c8"/>
<path d="M490.7 317.5 L479.3 301.2 L472.3 310.8 L489.1 319.6Z" fill="#c8c8c8"/>
<path d="M488.2 321.8 L470.5 315.1 L468.4 326.9 L487.7 324.4Z" fill="#c8c8c8"/>
<path d="M487.8 326.7 L468.6 331.3 L471.8 342.2 L488.6 329.1Z" fill="#c8c8c8"/>
<path d="M489.7 330.8 L474 345.7 L481.8 352.6 L491.4 332.4Z" fill="#9a9a9a"/>
<path d="M498.1 345.3 L499.4 345.6 L500.8 345.7 L502.1 345.8 L503.3 340.1 L504.3 339.9 L505.2 339.7 L506.1 339.4 L508.8 344.2 L510 343.5 L511.3 342.8 L512.4 342 L510.4 336.8 L511.1 336.1 L511.8 335.3 L512.4 334.5 L517.2 336.5 L517.9 335.2 L518.6 333.8 L519.1 332.4 L514.6 329.8 L514.8 328.8 L515 327.8 L515.1 326.7 L520.2 325.1 L520.1 323.7 L520 322.2 L519.7 320.8 L514.4 321.7 L514 320.8 L513.6 319.9 L513.1 319.1 L516.7 314.5 L515.8 313.4 L514.9 312.5 L513.8 311.6 L509.8 315.7 L509 315.2 L508.2 314.8 L507.3 314.4 L507.9 308.7 L506.6 308.4 L505.2 308.3 L503.9 308.2 L502.7 313.9 L501.7 314.1 L500.8 314.3 L499.9 314.6 L497.2 309.8 L496 310.5 L494.7 311.2 L493.6 312 L495.6 317.2 L494.9 317.9 L494.2 318.7 L493.6 319.5 L488.8 317.5 L488.1 318.8 L487.4 320.2 L486.9 321.6 L491.4 324.2 L491.2 325.2 L491 326.2 L490.9 327.3 L485.8 328.9 L485.9 330.3 L486 331.8 L486.3 333.2 L491.6 332.3 L492 333.2 L492.4 334.1 L492.9 334.9 L489.3 339.5 L490.2 340.6 L491.1 341.5 L492.2 342.4 L496.2 338.3 L497 338.8 L497.8 339.2 L498.7 339.6Z" fill="#777"/>
<ellipse cx="504" cy="326.5" rx="10.5" ry="11.5" transform="rotate(20 504 326.5)" fill="#bdbdbd"/>
<path d="M494 328 Q497 338 507 338 Q500 333 498 324 Z" fill="#1a1a1a"/>
<ellipse cx="611.5" cy="205" rx="26.5" ry="13.5" fill="url(#g26)"/>
<ellipse cx="612" cy="202" rx="12.6" ry="6" fill="#fbfdfb"/>
<path d="M577 247 Q580 262 586 268 L596 273 L612 275 L628 273 L638 268 Q644 262 646 250 Z" fill="#4a4a4a"/>
<path d="M579.5 252 L586.6 270 L591.6 273 L586.5 254 Z" fill="#c4c4c4"/>
<path d="M587.5 252 L593 270 L598 273 L594.5 254 Z" fill="#9a9a9a"/>
<path d="M595.5 252 L599.4 270 L604.4 273 L602.5 254 Z" fill="#b0b0b0"/>
<path d="M603.5 252 L605.8 270 L610.8 273 L610.5 254 Z" fill="#d0d0d0"/>
<path d="M611.5 252 L612.2 270 L617.2 273 L618.5 254 Z" fill="#c4c4c4"/>
<path d="M619.5 252 L618.6 270 L623.6 273 L626.5 254 Z" fill="#9a9a9a"/>
<path d="M627.5 252 L625 270 L630 273 L634.5 254 Z" fill="#b0b0b0"/>
<path d="M635.5 252 L631.4 270 L636.4 273 L642.5 254 Z" fill="#d0d0d0"/>
<ellipse cx="611.5" cy="245" rx="34.5" ry="12.5" fill="#111"/>
<path d="M578 243 L584 252 L587 254 Z" fill="#9a9a9a"/>
<path d="M645 243 L639 252 L636 254 Z" fill="#9a9a9a"/>
<ellipse cx="611.5" cy="241" rx="11" ry="6" fill="url(#g27)"/>
<path d="M600.5 241 A11 6 0 0 1 622.5 241 L622.5 238.5 A11 4.2 0 0 0 600.5 238.5 Z" fill="#222"/>
<ellipse cx="612" cy="302" rx="16" ry="7.2" fill="none" stroke="#111" stroke-width="2.6"/>
<ellipse cx="612" cy="512" rx="16" ry="7.6" fill="none" stroke="#111" stroke-width="2.6"/>
<path d="M587 555 L587.2 553.8 L587.8 552.7 L588.8 551.6 L590.2 550.5 L592 549.5 L594 548.6 L596.4 547.9 L599 547.2 L601.8 546.7 L604.8 546.3 L607.9 546.1 L611 546 L614.1 546.1 L617.2 546.3 L620.2 546.7 L623 547.2 L625.6 547.9 L628 548.6 L630 549.5 L631.8 550.5 L633.2 551.6 L634.2 552.7 L634.8 553.8 L635 555 L645 571 L644.7 572.6 L643.8 574.1 L642.4 575.6 L640.4 577 L638 578.3 L635 579.5 L631.7 580.5 L628 581.4 L624 582.1 L619.8 582.6 L615.4 582.9 L611 583 L606.6 582.9 L602.2 582.6 L598 582.1 L594 581.4 L590.3 580.5 L587 579.5 L584 578.3 L581.6 577 L579.6 575.6 L578.2 574.1 L577.3 572.6 L577 571 Z" fill="#1a1a1a"/>
<path d="M634.9 554.2 L644.9 569.9 L643.6 574.4 L634 557.6 Z" fill="#c8c8c8"/>
<path d="M632.8 558.8 L641.8 576.1 L634.4 579.7 L627.5 561.5 Z" fill="#8a8a8a"/>
<path d="M624.8 562.4 L630.5 580.8 L618.9 582.7 L616.6 563.8 Z" fill="#d8d8d8"/>
<path d="M613.1 564 L614 583 L601.3 582.5 L604.2 563.6 Z" fill="#a0a0a0"/>
<path d="M600.9 563.2 L596.7 581.9 L586.3 579.3 L593.6 561.2 Z" fill="#c8c8c8"/>
<path d="M591.4 560.2 L583.2 577.9 L577.9 573.8 L587.7 557.1 Z" fill="#8a8a8a"/>
<path d="M634.9 553.9 L634.6 554.5 L634.3 555.2 L633.8 555.8 L628.3 555.6 L627.8 556.1 L627.2 556.5 L626.5 557 L629.8 558.6 L628.7 559.1 L627.5 559.5 L626.2 560 L621.8 558.7 L620.7 559 L619.5 559.3 L618.3 559.5 L618.7 561.5 L617.1 561.7 L615.4 561.8 L613.7 561.9 L611.8 560 L610.5 560 L609.1 560 L607.8 559.9 L605.2 561.7 L603.6 561.6 L602 561.3 L600.4 561.1 L601.6 559.1 L600.4 558.8 L599.4 558.5 L598.3 558.2 L593.6 559.2 L592.4 558.7 L591.4 558.2 L590.4 557.6 L594.3 556.2 L593.8 555.7 L593.3 555.3 L592.9 554.8 L587.4 554.7 L587.2 554 L587 553.4 L587 552.7 L592.4 552.3 L592.6 551.8 L592.8 551.3 L593.2 550.8 L588.8 549.6 L589.5 549 L590.3 548.5 L591.2 547.9 L596.3 548.6 L597.2 548.3 L598.1 547.9 L599.2 547.6 L597.2 545.6 L598.6 545.3 L600.1 545 L601.7 544.7 L605 546.4 L606.2 546.2 L607.5 546.1 L608.9 546 L610 544 L611.7 544 L613.4 544 L615.1 544.1 L615.5 546.2 L616.8 546.3 L618 546.5 L619.3 546.7 L623.1 545.2 L624.5 545.6 L625.9 546 L627.2 546.4 L624.6 548.2 L625.5 548.6 L626.3 549 L627 549.4 L632.4 548.9 L633.1 549.5 L633.7 550.1 L634.2 550.7 L629.4 551.7 L629.6 552.2 L629.7 552.7 L629.7 553.2 Z" fill="#111"/>
<ellipse cx="612" cy="554" rx="12" ry="6.5" fill="url(#g28)"/>
<path d="M600 554 A12 6.5 0 0 1 624 554 L624 551 A12 4.5 0 0 0 600 551 Z" fill="#1a1a1a"/>
<ellipse cx="611.5" cy="609" rx="26.5" ry="13" fill="url(#g29)"/>
<ellipse cx="611" cy="614" rx="12.6" ry="6.3" fill="#fbfdfb"/>
<path d="M570 364 Q560 360 556.5 370 Q555 381 561.5 385 L588 402 L604 386 Z" fill="url(#g30)"/>
<ellipse cx="626" cy="396" rx="12" ry="16" transform="rotate(-15 626 396)" fill="#111"/>
<path d="M599 343.7 L599 398 L624.5 398 L624.5 343.7 Z" fill="url(#g31)"/>
<ellipse cx="611.7" cy="343.7" rx="12.7" ry="5.6" fill="#111"/>
<ellipse cx="613" cy="343" rx="4.5" ry="2.5" fill="#bbb"/>
<path d="M599 425 L599 470 Q611.7 480 624.5 470 L624.5 425 Z" fill="url(#g32)"/>
<path d="M625 405.5 L663 428 L648 446 L615 426 Z" fill="url(#g33)"/>
<path d="M612 391 L630 400 L640 412 L628 424 L614 428 Z" fill="#8a8a8a"/>
<ellipse cx="602.3" cy="412.3" rx="16.5" ry="24.5" transform="rotate(-15.6 602.3 412.3)" fill="#b4b4b4"/>
<ellipse cx="602.1" cy="411" rx="10.2" ry="18.5" transform="rotate(-15 602.1 411)" fill="url(#g34)"/>
<ellipse cx="655.9" cy="438.9" rx="6.5" ry="10.5" transform="rotate(35 655.9 438.9)" fill="#8e8e8e"/>
<ellipse cx="654.5" cy="439.5" rx="2.4" ry="3.2" transform="rotate(35 654.5 439.5)" fill="#111"/>
<path d="M753.6 391 L755.2 390.3 L756.7 389.3 L758 388.1 L759.3 386.7 L760.4 385.1 L761.4 383.3 L762.3 381.3 L763 379.2 L763.5 376.9 L763.9 374.4 L764.1 371.8 L764.1 369.2 L764 366.4 L763.7 363.6 L763.2 360.8 L762.6 357.9 L761.8 355.1 L760.8 352.3 L759.8 349.5 L758.5 346.8 L757.2 344.2 L755.7 341.7 L754.2 339.4 L752.5 337.2 L750.8 335.2 L749 333.3 L747.1 331.6 L745.3 330.2 L743.3 329 L741.4 327.9 L739.5 327.2 L737.6 326.7 L735.7 326.4 L733.9 326.3 L732.1 326.6 L730.4 327 L716.4 332 L714.8 332.7 L713.3 333.7 L712 334.9 L710.7 336.3 L709.6 337.9 L708.6 339.7 L707.7 341.7 L707 343.8 L706.5 346.1 L706.1 348.6 L705.9 351.2 L705.9 353.8 L706 356.6 L706.3 359.4 L706.8 362.2 L707.4 365.1 L708.2 367.9 L709.2 370.7 L710.2 373.5 L711.5 376.2 L712.8 378.8 L714.3 381.3 L715.8 383.6 L717.5 385.8 L719.2 387.8 L721 389.7 L722.9 391.4 L724.7 392.8 L726.7 394 L728.6 395.1 L730.5 395.8 L732.4 396.3 L734.3 396.6 L736.1 396.7 L737.9 396.4 L739.6 396Z" fill="url(#g35)"/>
<path d="M729.6 411.8 L730.8 411.2 L732 410.5 L733.1 409.7 L732 404.9 L732.9 404 L733.8 403 L734.6 402 L737.8 404.3 L738.5 402.9 L739.3 401.5 L739.9 400 L737.7 395.6 L738.2 394.1 L738.6 392.6 L738.9 391 L742.1 391.5 L742.4 389.7 L742.5 387.7 L742.6 385.8 L739.7 382.4 L739.7 380.6 L739.6 378.7 L739.4 376.9 L742.1 375.5 L741.7 373.4 L741.3 371.3 L740.9 369.2 L737.6 367.3 L737.1 365.4 L736.5 363.5 L735.8 361.7 L737.6 358.7 L736.7 356.6 L735.8 354.6 L734.9 352.7 L731.8 352.7 L730.8 351 L729.8 349.3 L728.8 347.7 L729.3 343.5 L728.1 341.9 L726.8 340.3 L725.5 338.8 L723.1 340.6 L721.8 339.4 L720.6 338.3 L719.3 337.2 L718.6 332.4 L717.2 331.4 L715.7 330.5 L714.3 329.7 L712.8 333.1 L711.5 332.5 L710.2 332 L708.9 331.7 L707 327.1 L705.6 326.9 L704.2 326.7 L702.8 326.7 L702.6 331.1 L701.4 331.3 L700.3 331.6 L699.1 332 L696.4 328.2 L695.2 328.8 L694 329.5 L692.9 330.3 L694 335.1 L693.1 336 L692.2 337 L691.4 338 L688.2 335.7 L687.5 337.1 L686.7 338.5 L686.1 340 L688.3 344.4 L687.8 345.9 L687.4 347.4 L687.1 349 L683.9 348.5 L683.6 350.3 L683.5 352.3 L683.4 354.2 L686.3 357.6 L686.3 359.4 L686.4 361.3 L686.6 363.1 L683.9 364.5 L684.3 366.6 L684.7 368.7 L685.1 370.8 L688.4 372.7 L688.9 374.6 L689.5 376.5 L690.2 378.3 L688.4 381.3 L689.3 383.4 L690.2 385.4 L691.1 387.3 L694.2 387.3 L695.2 389 L696.2 390.7 L697.2 392.3 L696.7 396.5 L697.9 398.1 L699.2 399.7 L700.5 401.2 L702.9 399.4 L704.2 400.6 L705.4 401.7 L706.7 402.8 L707.4 407.6 L708.8 408.6 L710.3 409.5 L711.7 410.3 L713.2 406.9 L714.5 407.5 L715.8 408 L717.1 408.3 L719 412.9 L720.4 413.1 L721.8 413.3 L723.2 413.3 L723.4 408.9 L724.6 408.7 L725.7 408.4 L726.9 408Z" fill="#4a4a4a"/>
<path d="M719.3 389.2 L727.1 411.8 L731.4 409.8 L721.6 388.2Z" fill="#c8c8c8"/>
<path d="M723.4 386.5 L735.7 405.8 L738.6 401.1 L724.8 384.1Z" fill="#c8c8c8"/>
<path d="M725.8 381.3 L740.9 394.3 L741.9 387.7 L726.3 377.9Z" fill="#c8c8c8"/>
<path d="M726.3 374.4 L741.9 379.2 L740.8 371.6 L725.7 370.5Z" fill="#c8c8c8"/>
<path d="M724.7 366.8 L738.4 362.6 L735.5 355.3 L723.3 363Z" fill="#c8c8c8"/>
<path d="M721.4 359.7 L731.1 347.2 L726.8 341.2 L719.2 356.6Z" fill="#c8c8c8"/>
<path d="M716.8 354.2 L721 335.2 L715.9 331.5 L714.2 352.2Z" fill="#c8c8c8"/>
<path d="M711.6 351 L709.7 328.6 L704.6 327.6 L709 350.5Z" fill="#c8c8c8"/>
<path d="M706.7 350.8 L698.9 328.2 L694.6 330.2 L704.4 351.8Z" fill="#9a9a9a"/>
<path d="M702.6 353.5 L690.3 334.2 L687.4 338.9 L701.2 355.9Z" fill="#9a9a9a"/>
<path d="M700.2 358.7 L685.1 345.7 L684.1 352.3 L699.7 362.1Z" fill="#9a9a9a"/>
<path d="M699.7 365.6 L684.1 360.8 L685.2 368.4 L700.3 369.5Z" fill="#9a9a9a"/>
<path d="M701.3 373.2 L687.6 377.4 L690.5 384.7 L702.7 377Z" fill="#9a9a9a"/>
<path d="M704.6 380.3 L694.9 392.8 L699.2 398.8 L706.8 383.4Z" fill="#9a9a9a"/>
<path d="M709.2 385.8 L705 404.8 L710.1 408.5 L711.8 387.8Z" fill="#9a9a9a"/>
<path d="M714.4 389 L716.3 411.4 L721.4 412.4 L717 389.5Z" fill="#9a9a9a"/>
<ellipse cx="705" cy="373" rx="12.5" ry="21" transform="rotate(-20 705 373)" fill="#8a8a8a"/>
<path d="M695 363 l20 -6" stroke="#222" stroke-width="1.8"/>
<path d="M695 367.5 l20 -6" stroke="#222" stroke-width="1.8"/>
<path d="M695 372 l20 -6" stroke="#222" stroke-width="1.8"/>
<path d="M695 376.5 l20 -6" stroke="#222" stroke-width="1.8"/>
<path d="M695 381 l20 -6" stroke="#222" stroke-width="1.8"/>
<path d="M695 385.5 l20 -6" stroke="#222" stroke-width="1.8"/>
<path d="M695 390 l20 -6" stroke="#222" stroke-width="1.8"/>
<path d="M695 394.5 l20 -6" stroke="#222" stroke-width="1.8"/>
<rect x="741" y="419" width="1.6" height="1.6" fill="#111"/>
<rect x="744" y="418" width="1.6" height="1.6" fill="#111"/>
<rect x="758" y="419" width="1.6" height="1.6" fill="#111"/>
<rect x="762" y="419" width="1.6" height="1.6" fill="#111"/>
<rect x="765" y="419" width="1.6" height="1.6" fill="#111"/>
<ellipse cx="682.6" cy="459" rx="12" ry="14.5" transform="rotate(20 682.6 459)" fill="none" stroke="#555" stroke-width="2.6"/>
<path d="M715.5 514 L716.9 514 L718.4 513.9 L719.8 513.6 L721.4 509.8 L722.7 509.3 L724 508.8 L725.2 508.1 L727.1 510.6 L728.5 509.6 L729.9 508.5 L731.3 507.4 L731.3 503.4 L732.4 502.2 L733.5 500.9 L734.5 499.6 L737.3 500.1 L738.4 498.4 L739.3 496.6 L740.2 494.8 L738.8 491.9 L739.4 490.2 L740 488.5 L740.5 486.8 L743.4 485.3 L743.8 483.3 L744.1 481.3 L744.3 479.4 L741.7 478.2 L741.7 476.6 L741.6 474.9 L741.4 473.3 L743.8 470.1 L743.4 468.4 L743 466.7 L742.4 465.2 L739.4 466.1 L738.7 464.9 L738 463.7 L737.2 462.7 L738.3 458.7 L737.3 457.7 L736.2 456.8 L735 456 L732.4 458.8 L731.3 458.3 L730.1 458 L728.9 457.7 L728.5 454 L727.1 454 L725.6 454.1 L724.2 454.4 L722.6 458.2 L721.3 458.7 L720 459.2 L718.8 459.9 L716.9 457.4 L715.5 458.4 L714.1 459.5 L712.7 460.6 L712.7 464.6 L711.6 465.8 L710.5 467.1 L709.5 468.4 L706.7 467.9 L705.6 469.6 L704.7 471.4 L703.8 473.2 L705.2 476.1 L704.6 477.8 L704 479.5 L703.5 481.2 L700.6 482.7 L700.2 484.7 L699.9 486.7 L699.7 488.6 L702.3 489.8 L702.3 491.4 L702.4 493.1 L702.6 494.7 L700.2 497.9 L700.6 499.6 L701 501.3 L701.6 502.8 L704.6 501.9 L705.3 503.1 L706 504.3 L706.8 505.3 L705.7 509.3 L706.7 510.3 L707.8 511.2 L709 512 L711.6 509.2 L712.7 509.7 L713.9 510 L715.1 510.3Z" fill="#2a2a2a"/>
<path d="M727.5 500.1 L731.6 506.2 L736.3 498.9 L730.8 495Z" fill="#a8a8a8"/>
<path d="M732.9 490 L739.3 491.7 L741.1 483.1 L734.2 483.9Z" fill="#a8a8a8"/>
<path d="M734.3 478.8 L741.3 475.7 L739.8 468 L733.2 473.4Z" fill="#a8a8a8"/>
<path d="M731.3 469.5 L737 462.5 L732.5 457.8 L728.2 466.3Z" fill="#a8a8a8"/>
<path d="M724.8 464.7 L727.7 455.5 L721.4 455.1 L720.4 464.4Z" fill="#a8a8a8"/>
<path d="M716.4 465.5 L715.7 456.8 L709.4 460.7 L712 468.3Z" fill="#a8a8a8"/>
<path d="M708.5 471.9 L704.4 465.8 L699.7 473.1 L705.2 477Z" fill="#a8a8a8"/>
<path d="M703.1 482 L696.7 480.3 L694.9 488.9 L701.8 488.1Z" fill="#a8a8a8"/>
<ellipse cx="721" cy="490" rx="17" ry="26" transform="rotate(20 721 490)" fill="url(#g36)"/>
<ellipse cx="727" cy="491" rx="8" ry="11" transform="rotate(20 727 491)" fill="url(#g37)"/>
<ellipse cx="771" cy="522" rx="20" ry="24" transform="rotate(20 771 522)" fill="url(#g38)"/>
<ellipse cx="773" cy="527" rx="11" ry="13" transform="rotate(20 773 527)" fill="#fbfdfb"/>
<path d="M785 297 L793 296.5 L808 307 Q820 323 824 350 Q826 374 812 381 Q796 384 784 368 Q771 349 773.5 322 Q776 304 785 297 Z" fill="#a6a6a6" stroke="#777" stroke-width="0.8"/>
<ellipse cx="798.5" cy="337.5" rx="14" ry="30" transform="rotate(-20 798.5 337.5)" fill="#fbfdfb" stroke="#555" stroke-width="0.7"/>
<path d="M997 316.2 L999 315.2 L1000.8 314 L1002.5 312.4 L1004 310.6 L1005.4 308.5 L1006.5 306.2 L1007.5 303.6 L1008.3 300.9 L1008.9 297.9 L1009.3 294.8 L1009.5 291.6 L1009.5 288.3 L1009.3 284.9 L1008.8 281.4 L1008.2 277.9 L1007.3 274.3 L1006.3 270.8 L1005.1 267.4 L1003.7 264 L1002.1 260.7 L1000.4 257.6 L998.6 254.5 L996.6 251.7 L994.5 249.1 L992.3 246.6 L990 244.4 L987.7 242.5 L985.4 240.8 L983 239.4 L980.6 238.2 L978.2 237.4 L975.8 236.9 L973.5 236.6 L971.2 236.7 L969.1 237.1 L967 237.8 L943 247.8 L941 248.8 L939.2 250 L937.5 251.6 L936 253.4 L934.6 255.5 L933.5 257.8 L932.5 260.4 L931.7 263.1 L931.1 266.1 L930.7 269.2 L930.5 272.4 L930.5 275.7 L930.7 279.1 L931.2 282.6 L931.8 286.1 L932.7 289.7 L933.7 293.2 L934.9 296.6 L936.3 300 L937.9 303.3 L939.6 306.4 L941.4 309.5 L943.4 312.3 L945.5 314.9 L947.7 317.4 L950 319.6 L952.3 321.5 L954.6 323.2 L957 324.6 L959.4 325.8 L961.8 326.6 L964.2 327.1 L966.5 327.4 L968.8 327.3 L970.9 326.9 L973 326.2Z" fill="url(#g39)"/>
<path d="M972.8 321.8 L974.7 320.9 L976.6 319.9 L978.2 318.5 L979.8 316.9 L981.2 315.1 L982.4 313 L983.5 310.8 L984.4 308.3 L985.1 305.7 L985.6 302.9 L985.9 300 L986 297 L985.9 293.9 L985.7 290.8 L985.2 287.6 L984.5 284.4 L983.7 281.2 L982.7 278.1 L981.5 275 L980.1 272 L978.6 269.1 L976.9 266.3 L975.1 263.7 L973.2 261.2 L971.2 259 L969.1 256.9 L967 255.1 L964.7 253.5 L962.5 252.1 L960.2 251.1 L958 250.2 L955.7 249.7 L953.5 249.4 L951.3 249.4 L949.2 249.7 L947.2 250.2 L907.2 264.2 L905.3 265.1 L903.4 266.1 L901.8 267.5 L900.2 269.1 L898.8 270.9 L897.6 273 L896.5 275.2 L895.6 277.7 L894.9 280.3 L894.4 283.1 L894.1 286 L894 289 L894.1 292.1 L894.3 295.2 L894.8 298.4 L895.5 301.6 L896.3 304.8 L897.3 307.9 L898.5 311 L899.9 314 L901.4 316.9 L903.1 319.7 L904.9 322.3 L906.8 324.8 L908.8 327 L910.9 329.1 L913 330.9 L915.3 332.5 L917.5 333.9 L919.8 334.9 L922 335.8 L924.3 336.3 L926.5 336.6 L928.7 336.6 L930.8 336.3 L932.8 335.8Z" fill="url(#g40)"/>
<path d="M934.3 363.6 L937.1 362.7 L939.8 361.3 L942.4 359.4 L944.8 357 L947 354.1 L949 350.7 L950.8 347 L952.3 342.8 L953.6 338.2 L954.7 333.3 L955.4 328.2 L955.9 322.7 L956.2 317 L956.1 311.2 L955.8 305.2 L955.2 299.2 L954.4 293.1 L953.3 287 L951.9 281 L950.3 275 L948.4 269.2 L946.4 263.6 L944.1 258.3 L941.7 253.2 L939.1 248.4 L936.3 243.9 L933.4 239.9 L930.5 236.2 L927.4 233 L924.3 230.3 L921.1 228 L918 226.2 L914.8 225 L911.7 224.3 L908.7 224.1 L905.7 224.4 L867.7 232.4 L864.9 233.3 L862.2 234.7 L859.6 236.6 L857.2 239 L855 241.9 L853 245.3 L851.2 249 L849.7 253.2 L848.4 257.8 L847.3 262.7 L846.6 267.8 L846.1 273.3 L845.8 279 L845.9 284.8 L846.2 290.8 L846.8 296.8 L847.6 302.9 L848.7 309 L850.1 315 L851.7 321 L853.6 326.8 L855.6 332.4 L857.9 337.7 L860.3 342.8 L862.9 347.6 L865.7 352.1 L868.6 356.1 L871.5 359.8 L874.6 363 L877.7 365.7 L880.9 368 L884 369.8 L887.2 371 L890.3 371.7 L893.3 371.9 L896.3 371.6Z" fill="url(#g41)"/>
<ellipse cx="882" cy="302" rx="34" ry="71" transform="rotate(-11.5 882 302)" fill="url(#g42)"/>
<ellipse cx="884" cy="304" rx="25" ry="55" transform="rotate(-11.5 884 304)" fill="url(#g43)"/>
<path d="M905 256 Q922 300 908 356 Q926 330 925 300 Q923 270 905 256 Z" fill="#2a2a2a"/>
<ellipse cx="901.7" cy="360.1" rx="3.4" ry="6" transform="rotate(-11.5 901.7 360.1)" fill="#2a2a2a"/>
<ellipse cx="911.7" cy="341.4" rx="3.4" ry="6" transform="rotate(-11.5 911.7 341.4)" fill="#2a2a2a"/>
<ellipse cx="913.6" cy="312.2" rx="3.4" ry="6" transform="rotate(-11.5 913.6 312.2)" fill="#2a2a2a"/>
<ellipse cx="907.1" cy="280.2" rx="3.4" ry="6" transform="rotate(-11.5 907.1 280.2)" fill="#2a2a2a"/>
<ellipse cx="893.9" cy="254.1" rx="3.4" ry="6" transform="rotate(-11.5 893.9 254.1)" fill="#2a2a2a"/>
<ellipse cx="877.5" cy="240.8" rx="3.4" ry="6" transform="rotate(-11.5 877.5 240.8)" fill="#2a2a2a"/>
<ellipse cx="862.3" cy="243.9" rx="3.4" ry="6" transform="rotate(-11.5 862.3 243.9)" fill="#2a2a2a"/>
<ellipse cx="852.3" cy="262.6" rx="3.4" ry="6" transform="rotate(-11.5 852.3 262.6)" fill="#2a2a2a"/>
<ellipse cx="850.4" cy="291.8" rx="3.4" ry="6" transform="rotate(-11.5 850.4 291.8)" fill="#2a2a2a"/>
<ellipse cx="856.9" cy="323.8" rx="3.4" ry="6" transform="rotate(-11.5 856.9 323.8)" fill="#2a2a2a"/>
<ellipse cx="870.1" cy="349.9" rx="3.4" ry="6" transform="rotate(-11.5 870.1 349.9)" fill="#2a2a2a"/>
<ellipse cx="886.5" cy="363.2" rx="3.4" ry="6" transform="rotate(-11.5 886.5 363.2)" fill="#2a2a2a"/>
<path d="M880 238 L896 236 Q902 245 896 252 L880 254 Z" fill="#d8d8d8"/>
<path d="M885 349 L901 347 Q907 356 901 363 L885 365 Z" fill="#d8d8d8"/>
<path d="M916 250 Q950 290 935 360" stroke="#bbb" stroke-width="1.2" fill="none"/>
<path d="M1154.3 331.4 L1157.3 329.9 L1155.6 317.7 L1158.1 315.8 L1165.8 323.8 L1168.4 321.2 L1165 308.8 L1167 306 L1175.1 311.8 L1177 308.2 L1172.2 296.2 L1173.6 292.5 L1181.7 295.9 L1182.8 291.4 L1176.7 280.4 L1177.5 276 L1185.2 276.9 L1185.6 271.7 L1178.5 262.1 L1178.5 257.2 L1185.6 255.5 L1185.2 249.9 L1177.5 242.1 L1176.7 236.9 L1182.8 232.6 L1181.7 226.8 L1173.6 221.2 L1172.2 216 L1177 209.4 L1175.1 203.6 L1167 200.4 L1165 195.4 L1168.4 186.7 L1165.8 181.3 L1158.1 180.6 L1155.6 176 L1157.3 165.7 L1154.2 160.7 L1147.2 162.7 L1144.3 158.6 L1144.3 147.1 L1140.9 142.9 L1134.9 147.4 L1131.6 144.1 L1130 131.8 L1126.3 128.6 L1121.5 135.4 L1118.1 133 L1114.9 120.6 L1111.1 118.4 L1107.9 127.2 L1104.4 125.8 L1099.7 113.8 L1096 112.8 L1094.4 123.3 L1091.1 122.9 L1085.1 111.8 L1081.6 112 L1081.7 123.6 L1078.7 124.4 L1071.7 114.6 L1068.7 116.1 L1070.4 128.3 L1067.9 130.2 L1060.2 122.2 L1057.6 124.8 L1061 137.2 L1059 140 L1050.9 134.2 L1049 137.8 L1053.8 149.8 L1052.4 153.5 L1044.3 150.1 L1043.2 154.6 L1049.3 165.6 L1048.5 170 L1040.8 169.1 L1040.4 174.3 L1047.5 183.9 L1047.5 188.8 L1040.4 190.5 L1040.8 196.1 L1048.5 203.9 L1049.3 209.1 L1043.2 213.4 L1044.3 219.2 L1052.4 224.8 L1053.8 230 L1049 236.6 L1050.9 242.4 L1059 245.6 L1061 250.6 L1057.6 259.3 L1060.2 264.7 L1067.9 265.4 L1070.4 270 L1068.7 280.3 L1071.8 285.3 L1078.8 283.3 L1081.7 287.4 L1081.7 298.9 L1085.1 303.1 L1091.1 298.6 L1094.4 301.9 L1096 314.2 L1099.7 317.4 L1104.5 310.6 L1107.9 313 L1111.1 325.4 L1114.9 327.6 L1118.1 318.8 L1121.6 320.2 L1126.3 332.2 L1130 333.2 L1131.6 322.7 L1134.9 323.1 L1140.9 334.2 L1144.4 334 L1144.3 322.4 L1147.3 321.6 Z" fill="#b4b4b4"/>
<path d="M1128.8 300.9 L1151.9 319.3 L1154.6 317.8 L1131.7 299.4 Z" fill="#d0d0d0"/>
<path d="M1135.7 296.2 L1161.9 311.8 L1164.1 309.3 L1138 293.5 Z" fill="#d0d0d0"/>
<path d="M1141.1 288.5 L1169.8 300.4 L1171.4 297 L1142.7 284.6 Z" fill="#d0d0d0"/>
<path d="M1058.1 218.3 L1051.4 217.9 L1052.5 223.1 L1059.5 224.6 Z" fill="#a0a0a0"/>
<path d="M1062.2 234.1 L1057.1 238.7 L1058.9 243.9 L1064.4 240.3 Z" fill="#a0a0a0"/>
<path d="M1068 249.5 L1065.2 258.9 L1067.6 263.7 L1070.8 255.5 Z" fill="#a0a0a0"/>
<path d="M1075.3 264 L1075.4 277.4 L1078.3 281.7 L1078.5 269.4 Z" fill="#a0a0a0"/>
<path d="M1083.6 276.9 L1087.3 293.6 L1090.5 297.2 L1087.2 281.4 Z" fill="#a0a0a0"/>
<path d="M1092.8 287.5 L1100.3 306.7 L1103.6 309.4 L1096.6 291.1 Z" fill="#a0a0a0"/>
<path d="M1102.3 295.6 L1113.8 316.1 L1117.2 317.9 L1106.1 298 Z" fill="#a0a0a0"/>
<path d="M1111.7 300.6 L1127.3 321.5 L1130.6 322.2 L1115.4 301.7 Z" fill="#a0a0a0"/>
<path d="M1120.7 302.4 L1140.2 322.6 L1143.3 322.2 L1124 302.2 Z" fill="#a0a0a0"/>
<path d="M1120.8 135.4 L1117.4 133 L1114 130.9 L1110.6 129 L1107.2 127.4 L1103.8 126 L1100.4 125 L1097.1 124.1 L1093.8 123.6 L1090.6 123.3 L1087.4 123.3 L1084.3 123.6 L1081.3 124.1 L1078.4 124.9 L1075.5 126 L1072.8 127.4 L1070.2 129 L1067.7 130.9 L1065.3 133 L1063 135.3 L1060.9 138 L1059 140.8 L1057.1 143.9 L1055.5 147.1 L1054 150.6 L1052.6 154.3 L1051.4 158.2 L1050.4 162.3 L1049.6 166.5 L1048.9 170.9 L1048.4 175.4 L1048.1 180 L1047.9 184.8 L1048 189.7 L1048.2 194.6 L1048.6 199.7 L1049.1 204.8 L1049.9 209.9 L1050.8 215.1 L1058.6 220.7 L1057.8 216.7 L1057.1 212.8 L1056.5 209 L1056.1 205.2 L1055.8 201.4 L1055.5 197.8 L1055.5 194.2 L1055.5 190.6 L1055.7 187.2 L1056 183.9 L1056.4 180.8 L1056.9 177.7 L1057.6 174.8 L1058.4 172 L1059.3 169.4 L1060.3 166.9 L1061.4 164.6 L1062.6 162.5 L1064 160.5 L1065.4 158.7 L1067 157.2 L1068.6 155.8 L1070.3 154.6 L1072.1 153.6 L1074 152.8 L1075.9 152.2 L1078 151.8 L1080 151.6 L1082.2 151.6 L1084.4 151.8 L1086.6 152.3 L1088.9 152.9 L1091.2 153.8 L1093.6 154.8 L1095.9 156 L1098.3 157.5 L1100.7 159.1 L1103.1 160.9 Z" fill="#1e1e1e"/>
<path d="M1181 298.1 L1182.3 293.7 L1183.4 289.1 L1184.2 284.4 L1184.9 279.4 L1185.4 274.3 L1185.7 269.1 L1185.8 263.7 L1185.7 258.2 L1185.4 252.7 L1184.9 247 L1184.2 241.3 L1183.4 235.5 L1182.3 229.7 L1181 223.9 L1179.5 218.1 L1177.9 212.3 L1176.1 206.5 L1174.1 200.8 L1171.9 195.1 L1169.6 189.5 L1167.1 184 L1164.5 178.6 L1161.7 173.3 L1158.8 168.2 L1155.8 163.2 L1152.7 158.4 L1149.4 153.7 L1146.1 149.2 L1142.6 145 L1139.1 140.9 L1135.5 137.1 L1131.8 133.5 L1128.1 130.2 L1124.4 127.1 L1120.6 124.3 L1116.8 121.7 L1099.9 158.5 L1102.3 160.3 L1104.7 162.2 L1107 164.3 L1109.4 166.6 L1111.7 169.1 L1114 171.7 L1116.3 174.4 L1118.5 177.3 L1120.7 180.4 L1122.8 183.5 L1124.9 186.8 L1126.9 190.2 L1128.8 193.7 L1130.6 197.3 L1132.4 201 L1134.1 204.7 L1135.7 208.5 L1137.2 212.4 L1138.6 216.3 L1139.9 220.2 L1141.1 224.1 L1142.1 228.1 L1143.1 232 L1143.9 235.9 L1144.7 239.9 L1145.3 243.7 L1145.8 247.6 L1146.2 251.3 L1146.4 255 L1146.5 258.7 L1146.5 262.2 L1146.4 265.6 L1146.1 269 L1145.8 272.2 L1145.3 275.3 L1144.6 278.3 Z" fill="#3a3a3a"/>
<path d="M1144.4 279.2 L1179.6 289 L1181.3 279.9 L1145.7 272.6 Z" fill="#d4d4d4"/>
<path d="M1145.7 272.6 L1181.3 279.9 L1181.6 278 L1146 270.1 Z" fill="#8a8a8a"/>
<path d="M1146.3 266.8 L1182.3 270.2 L1182.5 259.9 L1146.5 259.1 Z" fill="#d4d4d4"/>
<path d="M1146.5 259.1 L1182.5 259.9 L1182.5 257.8 L1146.5 256.2 Z" fill="#8a8a8a"/>
<path d="M1146.2 252.6 L1182 249.3 L1180.7 238.4 L1145.4 244.2 Z" fill="#d4d4d4"/>
<path d="M1145.4 244.2 L1180.7 238.4 L1180.3 236.2 L1144.9 241.2 Z" fill="#8a8a8a"/>
<path d="M1144.2 237.3 L1178.6 227.3 L1175.9 216.1 L1142.3 228.6 Z" fill="#d4d4d4"/>
<path d="M1142.3 228.6 L1175.9 216.1 L1175.2 213.9 L1141.4 225.4 Z" fill="#8a8a8a"/>
<path d="M1140.3 221.5 L1172.4 205.1 L1168.3 194.2 L1137.4 212.9 Z" fill="#d4d4d4"/>
<path d="M1137.4 212.9 L1168.3 194.2 L1167.4 192.1 L1136.2 209.8 Z" fill="#8a8a8a"/>
<path d="M1134.6 206 L1163.6 183.7 L1158.4 173.5 L1130.9 197.8 Z" fill="#d4d4d4"/>
<path d="M1130.9 197.8 L1158.4 173.5 L1157.2 171.6 L1129.4 194.9 Z" fill="#8a8a8a"/>
<path d="M1127.5 191.4 L1152.6 164 L1146.4 155 L1123.1 184 Z" fill="#d4d4d4"/>
<path d="M1123.1 184 L1146.4 155 L1145.1 153.3 L1121.4 181.4 Z" fill="#8a8a8a"/>
<path d="M1119.2 178.3 L1139.8 146.8 L1133 139.5 L1114.3 172 Z" fill="#d4d4d4"/>
<path d="M1114.3 172 L1133 139.5 L1131.6 138.1 L1112.5 169.9 Z" fill="#8a8a8a"/>
<path d="M1110.2 167.4 L1125.9 133 L1118.7 127.6 L1105 162.5 Z" fill="#d4d4d4"/>
<path d="M1105 162.5 L1118.7 127.6 L1117.3 126.6 L1103.1 160.9 Z" fill="#8a8a8a"/>
<path d="M1100.7 159.1 L1114.5 120.3 L1109.9 117.9 L1106.1 126.9 L1093.1 154.6 Z" fill="#1c1c1c"/>
<path d="M1100.2 158.8 L1113.9 125.2 L1111 123.6 L1097.8 157.2 Z" fill="#9a9a9a"/>
<path d="M1091.2 153.8 L1099.3 113.7 L1094.9 112.6 L1092.7 123.5 L1083.9 151.8 Z" fill="#1c1c1c"/>
<path d="M1090.8 153.6 L1099.5 119.1 L1096.6 118.4 L1088.4 152.8 Z" fill="#9a9a9a"/>
<path d="M1082.2 151.6 L1084.8 111.8 L1080.6 112.2 L1080.3 124.4 L1075.5 152.3 Z" fill="#1c1c1c"/>
<path d="M1081.8 151.6 L1085.6 117.5 L1083 117.8 L1079.6 151.6 Z" fill="#9a9a9a"/>
<path d="M1074 152.8 L1071.4 114.7 L1067.8 116.6 L1069.3 129.6 L1068.2 156 Z" fill="#1c1c1c"/>
<path d="M1073.6 152.9 L1073 120.6 L1070.6 121.8 L1071.7 153.7 Z" fill="#9a9a9a"/>
<path d="M1067 157.2 L1059.9 122.4 L1056.9 125.6 L1060.3 138.9 L1062.4 162.9 Z" fill="#1c1c1c"/>
<path d="M1066.6 157.5 L1062.1 128.2 L1060.1 130.2 L1065.1 159.1 Z" fill="#9a9a9a"/>
<path d="M1061.4 164.6 L1050.7 134.5 L1048.5 138.9 L1053.5 151.8 L1058.2 172.5 Z" fill="#1c1c1c"/>
<path d="M1061.2 165.1 L1053.4 139.8 L1052 142.6 L1060.1 167.4 Z" fill="#5a5a5a"/>
<path d="M1057.6 174.8 L1044.2 150.5 L1042.8 155.9 L1049.3 167.9 L1055.9 184.6 Z" fill="#1c1c1c"/>
<path d="M1057.5 175.4 L1047.3 155.2 L1046.5 158.6 L1056.8 178.3 Z" fill="#5a5a5a"/>
<path d="M1055.7 187.2 L1040.7 169.6 L1040.3 175.9 L1047.9 186.4 L1055.6 198.5 Z" fill="#1c1c1c"/>
<path d="M1055.6 187.9 L1044.1 173.5 L1043.8 177.4 L1055.5 191.3 Z" fill="#5a5a5a"/>
<path d="M1055.8 201.4 L1040.4 191.1 L1040.9 197.8 L1049.4 206.5 L1057.2 213.6 Z" fill="#1c1c1c"/>
<path d="M1055.8 202.2 L1043.9 193.9 L1044.3 198.2 L1056.2 205.9 Z" fill="#5a5a5a"/>
<path d="M1176.8 304.8 L1179 299.6 L1180.8 293.9 L1182.2 288 L1183.3 281.7 L1184.1 275.1 L1184.6 268.3 L1184.7 261.2 L1184.4 254 L1183.8 246.6 L1182.8 239.1 L1181.6 231.5 L1179.9 223.9 L1178 216.2 L1175.7 208.6 L1173.1 201.1 L1170.3 193.7 L1167.1 186.4 L1163.7 179.3 L1160.1 172.4 L1156.2 165.8 L1152.1 159.4 L1147.8 153.4 L1143.3 147.7 L1138.7 142.3 L1134 137.4 L1129.2 132.8 L1124.3 128.7 L1119.3 125.1 L1114.3 121.9" fill="none" stroke="#0e0e0e" stroke-width="4"/>
<ellipse cx="1099.5" cy="228" rx="38" ry="78" transform="rotate(-20 1099.5 228)" fill="url(#g44)"/>
<ellipse cx="1099.5" cy="228" rx="38" ry="78" transform="rotate(-20 1099.5 228)" fill="none" stroke="#8a8a8a" stroke-width="0.8"/>
<ellipse cx="1127.5" cy="291.6" rx="3" ry="5.2" transform="rotate(-20 1127.5 291.6)" fill="#3a3a3a"/>
<ellipse cx="1137.5" cy="272.9" rx="3" ry="5.2" transform="rotate(-20 1137.5 272.9)" fill="#3a3a3a"/>
<ellipse cx="1137.2" cy="242.2" rx="3" ry="5.2" transform="rotate(-20 1137.2 242.2)" fill="#3a3a3a"/>
<ellipse cx="1126.9" cy="207.7" rx="3" ry="5.2" transform="rotate(-20 1126.9 207.7)" fill="#3a3a3a"/>
<ellipse cx="1109.2" cy="178.6" rx="3" ry="5.2" transform="rotate(-20 1109.2 178.6)" fill="#3a3a3a"/>
<ellipse cx="1088.9" cy="162.8" rx="3" ry="5.2" transform="rotate(-20 1088.9 162.8)" fill="#3a3a3a"/>
<ellipse cx="1071.5" cy="164.4" rx="3" ry="5.2" transform="rotate(-20 1071.5 164.4)" fill="#3a3a3a"/>
<ellipse cx="1061.5" cy="183.1" rx="3" ry="5.2" transform="rotate(-20 1061.5 183.1)" fill="#3a3a3a"/>
<ellipse cx="1061.8" cy="213.8" rx="3" ry="5.2" transform="rotate(-20 1061.8 213.8)" fill="#3a3a3a"/>
<ellipse cx="1072.1" cy="248.3" rx="3" ry="5.2" transform="rotate(-20 1072.1 248.3)" fill="#3a3a3a"/>
<ellipse cx="1089.8" cy="277.4" rx="3" ry="5.2" transform="rotate(-20 1089.8 277.4)" fill="#3a3a3a"/>
<ellipse cx="1110.1" cy="293.2" rx="3" ry="5.2" transform="rotate(-20 1110.1 293.2)" fill="#3a3a3a"/>
<ellipse cx="1103" cy="230" rx="25.5" ry="66" transform="rotate(-20 1103 230)" fill="url(#g45)"/>
<g clip-path="url(#c46)"><ellipse cx="1103" cy="230" rx="25.5" ry="66" transform="rotate(-20 1103 230)" fill="#fbfdfb"/></g>
<path d="M1257.8 246.8 L1258.1 246.7 L1258.3 246.5 L1258.5 246.4 L1258.7 246.1 L1258.9 245.9 L1259.1 245.6 L1259.3 245.3 L1259.4 245 L1259.5 244.6 L1259.5 244.2 L1259.6 243.8 L1259.6 243.4 L1259.6 242.9 L1259.6 242.5 L1259.5 242 L1259.4 241.6 L1259.3 241.1 L1259.2 240.7 L1259 240.2 L1258.8 239.8 L1258.6 239.4 L1258.4 239 L1258.2 238.6 L1257.9 238.2 L1257.7 237.9 L1257.4 237.6 L1257.1 237.3 L1256.8 237.1 L1256.5 236.9 L1256.2 236.7 L1255.9 236.6 L1255.6 236.5 L1255.3 236.4 L1255 236.4 L1254.7 236.5 L1254.5 236.5 L1218.3 248.3 L1218.1 248.4 L1217.8 248.5 L1217.6 248.7 L1217.4 248.9 L1217.2 249.2 L1217 249.4 L1216.9 249.8 L1216.8 250.1 L1216.7 250.5 L1216.6 250.9 L1216.5 251.3 L1216.5 251.7 L1216.5 252.1 L1216.6 252.6 L1216.6 253 L1216.7 253.5 L1216.8 253.9 L1217 254.4 L1217.1 254.8 L1217.3 255.3 L1217.5 255.7 L1217.7 256.1 L1217.9 256.5 L1218.2 256.8 L1218.5 257.2 L1218.7 257.5 L1219 257.7 L1219.3 258 L1219.6 258.2 L1219.9 258.3 L1220.2 258.5 L1220.5 258.6 L1220.8 258.6 L1221.1 258.6 L1221.4 258.6 L1221.7 258.5Z" fill="url(#g47)"/>
<ellipse cx="1220" cy="253.4" rx="3.2" ry="5.4" transform="rotate(-18 1220 253.4)" fill="#8a8a8a"/>
<path d="M1279 216 Q1283 212 1288 216 L1293 222 L1303 214 Q1302 204 1308 200 Q1316 198 1318 207 Q1319 214 1314 221 L1292 235 Q1286 239 1282 234 Q1277 226 1279 216 Z" fill="#969696"/>
<ellipse cx="1286.5" cy="226.4" rx="3.2" ry="5.2" transform="rotate(-30 1286.5 226.4)" fill="#fbfdfb"/>
<ellipse cx="1308.2" cy="211.4" rx="3.4" ry="5.6" transform="rotate(-30 1308.2 211.4)" fill="#fbfdfb"/>
<path d="M1339 192 L1347 185 L1356 184 L1361 192 L1360 204 L1352 208 L1344 208 Z" fill="#3a3a3a"/>
<path d="M1347 185 L1356 184 L1361 192 L1352 193 Z" fill="#111"/>
<path d="M1338 191 L1346 186 L1352 192 L1352 205 L1346 210 L1339 205 Z" fill="#9a9a9a"/>
<ellipse cx="1345.2" cy="198" rx="3.2" ry="5" transform="rotate(-10 1345.2 198)" fill="#2a2a2a"/>
<g id="wm" style="mix-blend-mode:multiply"><path d="M577 316 L577 248 Q577 237 590 235 A 600 600 0 0 1 920 235 Q933 237 933 248 L933 316" fill="none" stroke="#b0b3b0" stroke-width="2.6"/>
<path d="M586.3 314 L586.3 252 Q586.3 245 594 244 A 680 680 0 0 1 916 244 Q923.7 245 923.7 252 L923.7 314" fill="none" stroke="#b6b8b6" stroke-width="1.6"/>
<path d="M592 314.5 L910 314.5 A46 75 0 0 1 910 464.5 L592 464.5 A46 75 0 0 1 592 314.5 Z" fill="none" stroke="#b0b3b0" stroke-width="3"/>
<path d="M592 466 Q628 606 750.5 621 Q873 606 909 466" fill="none" stroke="#b0b3b0" stroke-width="3"/>
<path d="M600.5 466 Q636 592 751.5 609 Q867 592 900.5 466" fill="none" stroke="#b6b8b6" stroke-width="1.2"/>
<path d="M698.4 335 L797 335 L797 437.6 L764 437.6 L764 360.3 L731.2 360.3 L731.2 437.6 L698.4 437.6 Z" fill="none" stroke="#b0b3b0" stroke-width="2.2"/>
<path d="M857.9 335 L887.9 335 L887.9 343.5 Q933.3 350 933.3 384.5 Q933.3 419 887.9 425.5 L887.9 437.6 L857.9 437.6 L857.9 425.5 Q811.5 419 811.5 384.5 Q811.5 350 857.9 343.5 Z" fill="none" stroke="#b0b3b0" stroke-width="2.2"/>
<path d="M859.8 363 L859.8 406.7 Q842.4 402 842.4 384.8 Q842.4 368 859.8 363 Z" fill="none" stroke="#b0b3b0" stroke-width="2.2"/>
<path d="M886.9 363 L886.9 406.7 Q904.3 402 904.3 384.8 Q904.3 368 886.9 363 Z" fill="none" stroke="#b0b3b0" stroke-width="2.2"/>
<path d="M581.3 359 Q598 333 630.3 333 Q682 335 682 390 Q682 444 630.3 444 Q596 444 579.4 408 L595.7 404 Q606 420 630 420 Q648 418 651.4 394.5 L624.5 394.5 L624.5 375.3 L651.4 375.3 Q646 357 630.3 356 Q608 356 597.6 367.6 Z" fill="none" stroke="#b0b3b0" stroke-width="2.2"/>
<text x="630.5" y="289.5" textLength="85.5" lengthAdjust="spacingAndGlyphs" style="font-family:'Liberation Sans',sans-serif;font-size:31px;font-weight:bold;fill:none;stroke:#b0b3b0;stroke-width:1.35">ТЕХНИКА</text>
<text x="785" y="289.5" textLength="99" lengthAdjust="spacingAndGlyphs" style="font-family:'Liberation Sans',sans-serif;font-size:31px;font-weight:bold;fill:none;stroke:#b0b3b0;stroke-width:1.35">ЗАПЧАСТИ</text>
<path d="M763 279 L762.9 280.1 L762.8 281.1 L762.5 282.2 L759.9 282.3 L759.5 283 L759.1 283.7 L758.6 284.4 L759.8 286.8 L759 287.5 L758.1 288.1 L757.2 288.7 L755.3 286.9 L754.5 287.1 L753.7 287.3 L752.8 287.5 L752 290 L750.9 289.9 L749.9 289.8 L748.8 289.5 L748.7 286.9 L748 286.5 L747.3 286.1 L746.6 285.6 L744.2 286.8 L743.5 286 L742.9 285.1 L742.3 284.2 L744.1 282.3 L743.9 281.5 L743.7 280.7 L743.5 279.8 L741 279 L741.1 277.9 L741.2 276.9 L741.5 275.8 L744.1 275.7 L744.5 275 L744.9 274.3 L745.4 273.6 L744.2 271.2 L745 270.5 L745.9 269.9 L746.8 269.3 L748.7 271.1 L749.5 270.9 L750.3 270.7 L751.2 270.5 L752 268 L753.1 268.1 L754.1 268.2 L755.2 268.5 L755.3 271.1 L756 271.5 L756.7 271.9 L757.4 272.4 L759.8 271.2 L760.5 272 L761.1 272.9 L761.7 273.8 L759.9 275.7 L760.1 276.5 L760.3 277.3 L760.5 278.2 Z" fill="none" stroke="#b0b3b0" stroke-width="1.1"/>
<circle cx="752" cy="279" r="3.5" fill="none" stroke="#b0b3b0" stroke-width="1.1"/>
<g transform="translate(751.7 498.3) rotate(0)"><path d="M0 12.5 L-10.8 6.2 L-10.8 -6.3 L-0 -12.5 L10.8 -6.3 L10.8 6.2 Z" fill="none" stroke="#b6b8b6" stroke-width="1.1"/><path d="M-21 12 L-21 109 M0 18 L0 115 M21 12 L21 109" fill="none" stroke="#b6b8b6" stroke-width="1.1"/><path d="M-21 12 L0 18 L21 12" fill="none" stroke="#b6b8b6" stroke-width="1.1"/><path d="M-19 16 L-2 21 M2 21 L19 16" fill="none" stroke="#b6b8b6" stroke-width="1.1"/><path d="M-21 25.9 L0 31.9 L21 25.9" fill="none" stroke="#b6b8b6" stroke-width="1.1"/><path d="M-19 29.9 L-2 34.9 M2 34.9 L19 29.9" fill="none" stroke="#b6b8b6" stroke-width="1.1"/><path d="M-21 39.7 L0 45.7 L21 39.7" fill="none" stroke="#b6b8b6" stroke-width="1.1"/><path d="M-19 43.7 L-2 48.7 M2 48.7 L19 43.7" fill="none" stroke="#b6b8b6" stroke-width="1.1"/><path d="M-21 53.6 L0 59.6 L21 53.6" fill="none" stroke="#b6b8b6" stroke-width="1.1"/><path d="M-19 57.6 L-2 62.6 M2 62.6 L19 57.6" fill="none" stroke="#b6b8b6" stroke-width="1.1"/><path d="M-21 67.4 L0 73.4 L21 67.4" fill="none" stroke="#b6b8b6" stroke-width="1.1"/><path d="M-19 71.4 L-2 76.4 M2 76.4 L19 71.4" fill="none" stroke="#b6b8b6" stroke-width="1.1"/><path d="M-21 81.3 L0 87.3 L21 81.3" fill="none" stroke="#b6b8b6" stroke-width="1.1"/><path d="M-19 85.3 L-2 90.3 M2 90.3 L19 85.3" fill="none" stroke="#b6b8b6" stroke-width="1.1"/><path d="M-21 95.1 L0 101.1 L21 95.1" fill="none" stroke="#b6b8b6" stroke-width="1.1"/><path d="M-19 99.1 L-2 104.1 M2 104.1 L19 99.1" fill="none" stroke="#b6b8b6" stroke-width="1.1"/><path d="M-21 109 L0 115 L21 109" fill="none" stroke="#b6b8b6" stroke-width="1.1"/></g>
<g transform="translate(689 531) rotate(-24)"><path d="M0 12.5 L-10.8 6.2 L-10.8 -6.3 L-0 -12.5 L10.8 -6.3 L10.8 6.2 Z" fill="none" stroke="#b6b8b6" stroke-width="1.1"/><path d="M-10.5 12 L-10.5 82 M0 18 L0 88 M10.5 12 L10.5 82" fill="none" stroke="#b6b8b6" stroke-width="1.1"/><path d="M-10.5 12 L0 18 L10.5 12" fill="none" stroke="#b6b8b6" stroke-width="1.1"/><path d="M-8.5 16 L-2 21 M2 21 L8.5 16" fill="none" stroke="#b6b8b6" stroke-width="1.1"/><path d="M-10.5 26 L0 32 L10.5 26" fill="none" stroke="#b6b8b6" stroke-width="1.1"/><path d="M-8.5 30 L-2 35 M2 35 L8.5 30" fill="none" stroke="#b6b8b6" stroke-width="1.1"/><path d="M-10.5 40 L0 46 L10.5 40" fill="none" stroke="#b6b8b6" stroke-width="1.1"/><path d="M-8.5 44 L-2 49 M2 49 L8.5 44" fill="none" stroke="#b6b8b6" stroke-width="1.1"/><path d="M-10.5 54 L0 60 L10.5 54" fill="none" stroke="#b6b8b6" stroke-width="1.1"/><path d="M-8.5 58 L-2 63 M2 63 L8.5 58" fill="none" stroke="#b6b8b6" stroke-width="1.1"/><path d="M-10.5 68 L0 74 L10.5 68" fill="none" stroke="#b6b8b6" stroke-width="1.1"/><path d="M-8.5 72 L-2 77 M2 77 L8.5 72" fill="none" stroke="#b6b8b6" stroke-width="1.1"/><path d="M-10.5 82 L0 88 L10.5 82" fill="none" stroke="#b6b8b6" stroke-width="1.1"/></g>
<g transform="translate(814.4 531) rotate(24)"><path d="M0 12.5 L-10.8 6.2 L-10.8 -6.3 L-0 -12.5 L10.8 -6.3 L10.8 6.2 Z" fill="none" stroke="#b6b8b6" stroke-width="1.1"/><path d="M-10.5 12 L-10.5 82 M0 18 L0 88 M10.5 12 L10.5 82" fill="none" stroke="#b6b8b6" stroke-width="1.1"/><path d="M-10.5 12 L0 18 L10.5 12" fill="none" stroke="#b6b8b6" stroke-width="1.1"/><path d="M-8.5 16 L-2 21 M2 21 L8.5 16" fill="none" stroke="#b6b8b6" stroke-width="1.1"/><path d="M-10.5 26 L0 32 L10.5 26" fill="none" stroke="#b6b8b6" stroke-width="1.1"/><path d="M-8.5 30 L-2 35 M2 35 L8.5 30" fill="none" stroke="#b6b8b6" stroke-width="1.1"/><path d="M-10.5 40 L0 46 L10.5 40" fill="none" stroke="#b6b8b6" stroke-width="1.1"/><path d="M-8.5 44 L-2 49 M2 49 L8.5 44" fill="none" stroke="#b6b8b6" stroke-width="1.1"/><path d="M-10.5 54 L0 60 L10.5 54" fill="none" stroke="#b6b8b6" stroke-width="1.1"/><path d="M-8.5 58 L-2 63 M2 63 L8.5 58" fill="none" stroke="#b6b8b6" stroke-width="1.1"/><path d="M-10.5 68 L0 74 L10.5 68" fill="none" stroke="#b6b8b6" stroke-width="1.1"/><path d="M-8.5 72 L-2 77 M2 77 L8.5 72" fill="none" stroke="#b6b8b6" stroke-width="1.1"/><path d="M-10.5 82 L0 88 L10.5 82" fill="none" stroke="#b6b8b6" stroke-width="1.1"/></g></g>
<g id="leaders" stroke="#1a1a1a" stroke-width="1.2" fill="none">
<line x1="103.6" y1="661.9" x2="185.1" y2="788.6"/>
<line x1="193.3" y1="629.4" x2="279.2" y2="763.4"/>
<line x1="340" y1="590" x2="415.7" y2="717"/>
<line x1="416.3" y1="528" x2="507.4" y2="669.5"/>
<line x1="308.4" y1="307" x2="472.2" y2="418.4"/>
<line x1="634" y1="618" x2="689.3" y2="704.6"/>
<line x1="640.3" y1="572" x2="757" y2="662.8"/>
<line x1="627.4" y1="513.8" x2="840.6" y2="628.8"/>
<line x1="485.4" y1="145.5" x2="607" y2="357"/>
<line x1="979.4" y1="301.6" x2="1097.4" y2="473"/>
<line x1="1150" y1="311.2" x2="1192.6" y2="452"/>
<line x1="1238.6" y1="250.4" x2="1272.7" y2="422.4"/>
<line x1="1299.8" y1="226.4" x2="1343.2" y2="395.2"/>
<line x1="1357.5" y1="204.8" x2="1403.4" y2="347.6"/>
<line x1="1445" y1="169.5" x2="1465" y2="313.4"/>
</g>
<g id="labels">
<text x="186" y="815">1</text>
<text x="285" y="792">2</text>
<text x="417.5" y="744.5">3</text>
<text x="510" y="700">4</text>
<text x="288.5" y="310">5</text>
<text x="692.5" y="733">6</text>
<text x="758" y="684.5">7</text>
<text x="849" y="649">8</text>
<text x="476" y="138">9</text>
<text x="1096" y="502.5">10</text>
<text x="1188" y="485" letter-spacing="-3">11</text>
<text x="1264" y="451">12</text>
<text x="1333" y="426.5">13</text>
<text x="1392" y="382.5" letter-spacing="-1.5">14</text>
<text x="1462" y="344">1</text>
</g>
</svg>
</body></html>
